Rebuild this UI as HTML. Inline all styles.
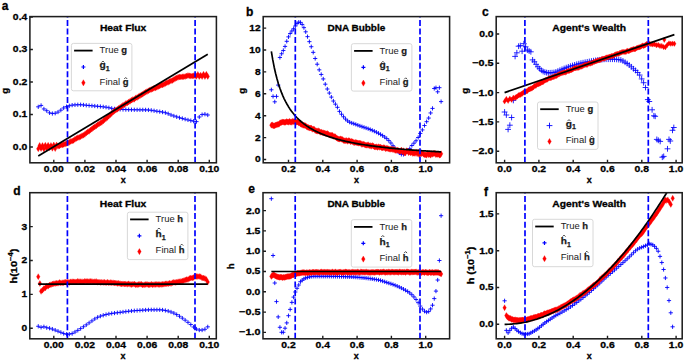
<!DOCTYPE html>
<html><head><meta charset="utf-8"><title>Figure</title>
<style>html,body{margin:0;padding:0;background:#fff;width:685px;height:361px;overflow:hidden;}svg text{font-family:"Liberation Sans", sans-serif;}</style>
</head><body>
<svg width="685" height="361" viewBox="0 0 685 361" style="position:absolute;left:0;top:0;font-family:'Liberation Sans', sans-serif">
<rect width="685" height="361" fill="#ffffff"/>
<clipPath id="clipa"><rect x="29.9" y="16.6" width="186.5" height="146.2"/></clipPath>
<g clip-path="url(#clipa)">
<path d="M36.15,106.84h4.2M38.25,104.74v4.2M38.98,105.43h4.2M41.08,103.33v4.2M41.8,108.94h4.2M43.9,106.84v4.2M44.62,110.72h4.2M46.73,108.62v4.2M47.45,112.83h4.2M49.55,110.73v4.2M50.27,113.54h4.2M52.38,111.44v4.2M53.1,113.24h4.2M55.2,111.14v4.2M55.93,112.07h4.2M58.03,109.97v4.2M58.75,110.15h4.2M60.85,108.05v4.2M61.57,107.99h4.2M63.67,105.89v4.2M64.4,106.64h4.2M66.5,104.54v4.2M67.23,105.76h4.2M69.33,103.66v4.2M70.05,105.13h4.2M72.15,103.03v4.2M72.88,104.88h4.2M74.97,102.78v4.2M75.7,104.74h4.2M77.8,102.64v4.2M78.53,104.71h4.2M80.62,102.61v4.2M81.35,104.94h4.2M83.45,102.84v4.2M84.18,105.26h4.2M86.28,103.16v4.2M87,105.51h4.2M89.1,103.41v4.2M89.83,105.76h4.2M91.93,103.66v4.2M92.65,106.02h4.2M94.75,103.92v4.2M95.48,106.28h4.2M97.58,104.18v4.2M98.3,106.55h4.2M100.4,104.45v4.2M101.13,106.84h4.2M103.23,104.74v4.2M103.95,107.19h4.2M106.05,105.09v4.2M106.78,107.73h4.2M108.88,105.63v4.2M109.6,108.34h4.2M111.7,106.24v4.2M112.43,108.85h4.2M114.53,106.75v4.2M115.25,109.13h4.2M117.35,107.03v4.2M118.08,109.33h4.2M120.18,107.23v4.2M120.9,109.48h4.2M123,107.38v4.2M123.73,109.59h4.2M125.83,107.49v4.2M126.55,109.66h4.2M128.65,107.56v4.2M129.38,109.72h4.2M131.48,107.62v4.2M132.2,109.77h4.2M134.3,107.67v4.2M135.03,109.81h4.2M137.12,107.71v4.2M137.85,109.83h4.2M139.95,107.73v4.2M140.68,109.85h4.2M142.78,107.75v4.2M143.5,109.88h4.2M145.6,107.78v4.2M146.33,109.97h4.2M148.43,107.87v4.2M149.15,110.29h4.2M151.25,108.19v4.2M151.97,110.76h4.2M154.07,108.66v4.2M154.8,111.24h4.2M156.9,109.14v4.2M157.63,111.65h4.2M159.73,109.55v4.2M160.45,112.1h4.2M162.55,110v4.2M163.28,112.7h4.2M165.38,110.6v4.2M166.1,113.73h4.2M168.2,111.63v4.2M168.93,114.96h4.2M171.03,112.86v4.2M171.75,115.95h4.2M173.85,113.85v4.2M174.58,116.85h4.2M176.68,114.75v4.2M177.4,117.68h4.2M179.5,115.58v4.2M180.23,118.47h4.2M182.33,116.37v4.2M183.05,119.21h4.2M185.15,117.11v4.2M185.88,119.93h4.2M187.98,117.83v4.2M188.7,120.6h4.2M190.8,118.5v4.2M191.53,121.18h4.2M193.62,119.08v4.2M194.35,121.64h4.2M196.45,119.54v4.2M197.18,117h4.2M199.28,114.9v4.2M200,114.6h4.2M202.1,112.5v4.2M202.83,114.2h4.2M204.93,112.1v4.2M205.65,115h4.2M207.75,112.9v4.2" stroke="#0000ff" stroke-width="0.9" fill="none"/>
<path d="M38.25,145.83l1.75,3l-1.75,3l-1.75,-3zM39.66,142.44l1.75,3l-1.75,3l-1.75,-3zM41.08,145.4l1.75,3l-1.75,3l-1.75,-3zM42.49,142.56l1.75,3l-1.75,3l-1.75,-3zM43.9,145.99l1.75,3l-1.75,3l-1.75,-3zM45.31,142.28l1.75,3l-1.75,3l-1.75,-3zM46.73,145.14l1.75,3l-1.75,3l-1.75,-3zM48.14,142.37l1.75,3l-1.75,3l-1.75,-3zM49.55,144.7l1.75,3l-1.75,3l-1.75,-3zM50.96,142.45l1.75,3l-1.75,3l-1.75,-3zM52.38,145.31l1.75,3l-1.75,3l-1.75,-3zM53.79,141.99l1.75,3l-1.75,3l-1.75,-3zM55.2,145.58l1.75,3l-1.75,3l-1.75,-3zM56.61,141.92l1.75,3l-1.75,3l-1.75,-3zM58.03,143.32l1.75,3l-1.75,3l-1.75,-3zM59.44,142.9l1.75,3l-1.75,3l-1.75,-3zM60.85,142.05l1.75,3l-1.75,3l-1.75,-3zM62.26,142.06l1.75,3l-1.75,3l-1.75,-3zM63.67,141.39l1.75,3l-1.75,3l-1.75,-3zM65.09,141.04l1.75,3l-1.75,3l-1.75,-3zM66.5,140.38l1.75,3l-1.75,3l-1.75,-3zM67.91,140.11l1.75,3l-1.75,3l-1.75,-3zM69.33,139.29l1.75,3l-1.75,3l-1.75,-3zM70.74,138.4l1.75,3l-1.75,3l-1.75,-3zM72.15,137.99l1.75,3l-1.75,3l-1.75,-3zM73.56,137.41l1.75,3l-1.75,3l-1.75,-3zM74.97,136.25l1.75,3l-1.75,3l-1.75,-3zM76.39,135.38l1.75,3l-1.75,3l-1.75,-3zM77.8,134.71l1.75,3l-1.75,3l-1.75,-3zM79.21,134.37l1.75,3l-1.75,3l-1.75,-3zM80.62,133.66l1.75,3l-1.75,3l-1.75,-3zM82.04,132.71l1.75,3l-1.75,3l-1.75,-3zM83.45,132.18l1.75,3l-1.75,3l-1.75,-3zM84.86,131.36l1.75,3l-1.75,3l-1.75,-3zM86.28,130.09l1.75,3l-1.75,3l-1.75,-3zM87.69,128.88l1.75,3l-1.75,3l-1.75,-3zM89.1,128.28l1.75,3l-1.75,3l-1.75,-3zM90.51,127.12l1.75,3l-1.75,3l-1.75,-3zM91.93,125.89l1.75,3l-1.75,3l-1.75,-3zM93.34,124.75l1.75,3l-1.75,3l-1.75,-3zM94.75,123.91l1.75,3l-1.75,3l-1.75,-3zM96.16,122.99l1.75,3l-1.75,3l-1.75,-3zM97.58,121.87l1.75,3l-1.75,3l-1.75,-3zM98.99,120.91l1.75,3l-1.75,3l-1.75,-3zM100.4,120.04l1.75,3l-1.75,3l-1.75,-3zM101.81,119.33l1.75,3l-1.75,3l-1.75,-3zM103.23,118.05l1.75,3l-1.75,3l-1.75,-3zM104.64,116.72l1.75,3l-1.75,3l-1.75,-3zM106.05,115.55l1.75,3l-1.75,3l-1.75,-3zM107.46,114.46l1.75,3l-1.75,3l-1.75,-3zM108.88,112.97l1.75,3l-1.75,3l-1.75,-3zM110.29,111.65l1.75,3l-1.75,3l-1.75,-3zM111.7,110.6l1.75,3l-1.75,3l-1.75,-3zM113.11,109l1.75,3l-1.75,3l-1.75,-3zM114.53,108.12l1.75,3l-1.75,3l-1.75,-3zM115.94,106.94l1.75,3l-1.75,3l-1.75,-3zM117.35,106.2l1.75,3l-1.75,3l-1.75,-3zM118.76,105.27l1.75,3l-1.75,3l-1.75,-3zM120.18,104.29l1.75,3l-1.75,3l-1.75,-3zM121.59,103.39l1.75,3l-1.75,3l-1.75,-3zM123,102.27l1.75,3l-1.75,3l-1.75,-3zM124.41,101.66l1.75,3l-1.75,3l-1.75,-3zM125.83,100.57l1.75,3l-1.75,3l-1.75,-3zM127.24,99.94l1.75,3l-1.75,3l-1.75,-3zM128.65,98.94l1.75,3l-1.75,3l-1.75,-3zM130.06,98.24l1.75,3l-1.75,3l-1.75,-3zM131.48,97.14l1.75,3l-1.75,3l-1.75,-3zM132.89,96.49l1.75,3l-1.75,3l-1.75,-3zM134.3,96.28l1.75,3l-1.75,3l-1.75,-3zM135.71,94.88l1.75,3l-1.75,3l-1.75,-3zM137.12,94.44l1.75,3l-1.75,3l-1.75,-3zM138.54,93.6l1.75,3l-1.75,3l-1.75,-3zM139.95,92.86l1.75,3l-1.75,3l-1.75,-3zM141.36,91.87l1.75,3l-1.75,3l-1.75,-3zM142.78,91.18l1.75,3l-1.75,3l-1.75,-3zM144.19,89.98l1.75,3l-1.75,3l-1.75,-3zM145.6,89.23l1.75,3l-1.75,3l-1.75,-3zM147.01,88.58l1.75,3l-1.75,3l-1.75,-3zM148.43,87.81l1.75,3l-1.75,3l-1.75,-3zM149.84,87.06l1.75,3l-1.75,3l-1.75,-3zM151.25,86.39l1.75,3l-1.75,3l-1.75,-3zM152.66,86.06l1.75,3l-1.75,3l-1.75,-3zM154.07,85.11l1.75,3l-1.75,3l-1.75,-3zM155.49,85.08l1.75,3l-1.75,3l-1.75,-3zM156.9,84.24l1.75,3l-1.75,3l-1.75,-3zM158.31,83.5l1.75,3l-1.75,3l-1.75,-3zM159.73,83.01l1.75,3l-1.75,3l-1.75,-3zM161.14,82.04l1.75,3l-1.75,3l-1.75,-3zM162.55,81.94l1.75,3l-1.75,3l-1.75,-3zM163.96,81.24l1.75,3l-1.75,3l-1.75,-3zM165.38,80.51l1.75,3l-1.75,3l-1.75,-3zM166.79,79.67l1.75,3l-1.75,3l-1.75,-3zM168.2,79.31l1.75,3l-1.75,3l-1.75,-3zM169.61,78.58l1.75,3l-1.75,3l-1.75,-3zM171.03,77.86l1.75,3l-1.75,3l-1.75,-3zM172.44,77.42l1.75,3l-1.75,3l-1.75,-3zM173.85,76.51l1.75,3l-1.75,3l-1.75,-3zM175.26,75.61l1.75,3l-1.75,3l-1.75,-3zM176.68,75.12l1.75,3l-1.75,3l-1.75,-3zM178.09,74.33l1.75,3l-1.75,3l-1.75,-3zM179.5,73.92l1.75,3l-1.75,3l-1.75,-3zM180.91,74l1.75,3l-1.75,3l-1.75,-3zM182.33,73.76l1.75,3l-1.75,3l-1.75,-3zM183.74,73.71l1.75,3l-1.75,3l-1.75,-3zM185.15,73.45l1.75,3l-1.75,3l-1.75,-3zM186.56,73.06l1.75,3l-1.75,3l-1.75,-3zM187.98,72.58l1.75,3l-1.75,3l-1.75,-3zM189.39,72.82l1.75,3l-1.75,3l-1.75,-3zM190.8,73.11l1.75,3l-1.75,3l-1.75,-3zM192.21,72.96l1.75,3l-1.75,3l-1.75,-3zM193.62,72.69l1.75,3l-1.75,3l-1.75,-3zM195.04,72.66l1.75,3l-1.75,3l-1.75,-3zM196.45,73.32l1.75,3l-1.75,3l-1.75,-3zM197.86,71.39l1.75,3l-1.75,3l-1.75,-3zM199.28,73.51l1.75,3l-1.75,3l-1.75,-3zM200.69,72.14l1.75,3l-1.75,3l-1.75,-3zM202.1,73.59l1.75,3l-1.75,3l-1.75,-3zM203.51,71.33l1.75,3l-1.75,3l-1.75,-3zM204.93,73.56l1.75,3l-1.75,3l-1.75,-3zM206.34,71.37l1.75,3l-1.75,3l-1.75,-3zM207.75,73.4l1.75,3l-1.75,3l-1.75,-3z" fill="#ff0000" stroke="#ff0000" stroke-width="0.3"/>
<path d="M38.25,156 L207.75,54.33" fill="none" stroke="#000" stroke-width="1.7" stroke-linejoin="round"/>
<line x1="67.5" y1="162.8" x2="67.5" y2="16.6" stroke="#0000ff" stroke-width="1.7" stroke-dasharray="6,2.55"/>
<line x1="195.1" y1="162.8" x2="195.1" y2="16.6" stroke="#0000ff" stroke-width="1.7" stroke-dasharray="6,2.55"/>
</g>
<path d="M53.8,162.8v-3.0M84.9,162.8v-3.0M116,162.8v-3.0M147.1,162.8v-3.0M178.2,162.8v-3.0M209.3,162.8v-3.0M29.9,147h3.0M29.9,114.5h3.0M29.9,82h3.0M29.9,49.5h3.0M29.9,17h3.0" stroke="#1e1e1e" stroke-width="1.4"/>
<rect x="29.9" y="16.6" width="186.5" height="146.2" fill="none" stroke="#1e1e1e" stroke-width="1.55"/>
<text x="53.8" y="172.1" font-size="9.4" font-weight="bold" stroke="#000" stroke-width="0.3" text-anchor="middle" textLength="20.11" lengthAdjust="spacingAndGlyphs">0.00</text>
<text x="84.9" y="172.1" font-size="9.4" font-weight="bold" stroke="#000" stroke-width="0.3" text-anchor="middle" textLength="20.11" lengthAdjust="spacingAndGlyphs">0.02</text>
<text x="116" y="172.1" font-size="9.4" font-weight="bold" stroke="#000" stroke-width="0.3" text-anchor="middle" textLength="20.11" lengthAdjust="spacingAndGlyphs">0.04</text>
<text x="147.1" y="172.1" font-size="9.4" font-weight="bold" stroke="#000" stroke-width="0.3" text-anchor="middle" textLength="20.11" lengthAdjust="spacingAndGlyphs">0.06</text>
<text x="178.2" y="172.1" font-size="9.4" font-weight="bold" stroke="#000" stroke-width="0.3" text-anchor="middle" textLength="20.11" lengthAdjust="spacingAndGlyphs">0.08</text>
<text x="209.3" y="172.1" font-size="9.4" font-weight="bold" stroke="#000" stroke-width="0.3" text-anchor="middle" textLength="20.11" lengthAdjust="spacingAndGlyphs">0.10</text>
<text x="27.3" y="149.95" font-size="9.4" font-weight="bold" stroke="#000" stroke-width="0.3" text-anchor="end" textLength="14.44" lengthAdjust="spacingAndGlyphs">0.0</text>
<text x="27.3" y="117.45" font-size="9.4" font-weight="bold" stroke="#000" stroke-width="0.3" text-anchor="end" textLength="14.44" lengthAdjust="spacingAndGlyphs">0.1</text>
<text x="27.3" y="84.95" font-size="9.4" font-weight="bold" stroke="#000" stroke-width="0.3" text-anchor="end" textLength="14.44" lengthAdjust="spacingAndGlyphs">0.2</text>
<text x="27.3" y="52.45" font-size="9.4" font-weight="bold" stroke="#000" stroke-width="0.3" text-anchor="end" textLength="14.44" lengthAdjust="spacingAndGlyphs">0.3</text>
<text x="27.3" y="19.95" font-size="9.4" font-weight="bold" stroke="#000" stroke-width="0.3" text-anchor="end" textLength="14.44" lengthAdjust="spacingAndGlyphs">0.4</text>
<text x="123.15" y="182.7" font-size="9.0" font-weight="bold" stroke="#000" stroke-width="0.3" text-anchor="middle">x</text>
<text x="8.2" y="90.7" font-size="9.6" font-weight="bold" stroke="#000" stroke-width="0.3" text-anchor="middle" transform="rotate(-90 8.2 90.7)">g</text>
<text x="123.15" y="31.2" font-size="9.3" font-weight="bold" stroke="#000" stroke-width="0.3" text-anchor="middle" textLength="46.43" lengthAdjust="spacingAndGlyphs">Heat Flux</text>
<text x="1.8" y="10.2" font-size="12.0" font-weight="bold" stroke="#000" stroke-width="0.3">a</text>
<rect x="71.4" y="43.4" width="60.5" height="47.4" rx="2" ry="2" fill="#ffffff" fill-opacity="0.8" stroke="#d4d4d4" stroke-width="0.9"/>
<line x1="74.1" y1="50.6" x2="92.6" y2="50.6" stroke="#000" stroke-width="1.8"/>
<path d="M81.4,67h4M83.4,65v4" stroke="#0000ff" stroke-width="1.2" fill="none"/>
<path d="M83.4,79.7l1.8,3.1l-1.8,3.1l-1.8,-3.1z" fill="#ff0000" stroke="#ff0000" stroke-width="0.3"/>
<text x="99.6" y="53.4" font-size="9.3" textLength="27.47" lengthAdjust="spacingAndGlyphs" fill="#1a1a1a">True <tspan font-weight="bold" stroke="#1a1a1a" stroke-width="0.25">g</tspan></text>
<text x="99.6" y="68" font-size="9.3" font-weight="bold" fill="#1a1a1a" stroke="#1a1a1a" stroke-width="0.25"><tspan textLength="6.23" lengthAdjust="spacingAndGlyphs">g</tspan><tspan font-size="7" dy="2.6">1</tspan></text>
<text x="99.6" y="84.5" font-size="9.3" textLength="29.04" lengthAdjust="spacingAndGlyphs" fill="#1a1a1a">Final <tspan font-weight="bold" stroke="#1a1a1a" stroke-width="0.25">g</tspan></text>
<path d="M101.41,62.5L102.91,61L104.41,62.5M124.23,79L125.73,77.5L127.23,79" fill="none" stroke="#1a1a1a" stroke-width="0.8"/>
<clipPath id="clipb"><rect x="263.2" y="16.6" width="186.4" height="146.2"/></clipPath>
<g clip-path="url(#clipb)">
<path d="M269.25,89.8h4.2M271.35,87.7v4.2M270.96,96.4h4.2M273.06,94.3v4.2M272.67,101.8h4.2M274.77,99.7v4.2M274.39,96.4h4.2M276.49,94.3v4.2M276.1,85.1h4.2M278.2,83v4.2M277.81,57.47h4.2M279.91,55.37v4.2M279.52,53.76h4.2M281.62,51.66v4.2M281.23,50.47h4.2M283.33,48.37v4.2M282.95,46.42h4.2M285.05,44.32v4.2M284.66,41.32h4.2M286.76,39.22v4.2M286.37,36.87h4.2M288.47,34.77v4.2M288.08,33.53h4.2M290.18,31.43v4.2M289.79,30.97h4.2M291.89,28.87v4.2M291.51,28.75h4.2M293.61,26.65v4.2M293.22,26.02h4.2M295.32,23.92v4.2M294.93,23.56h4.2M297.03,21.46v4.2M296.64,22.21h4.2M298.74,20.11v4.2M298.35,22.37h4.2M300.45,20.27v4.2M300.07,24.45h4.2M302.17,22.35v4.2M301.82,27.66h4.2M303.92,25.56v4.2M303.61,31.82h4.2M305.71,29.72v4.2M305.43,36.65h4.2M307.53,34.55v4.2M307.29,41.65h4.2M309.39,39.55v4.2M309.18,46.71h4.2M311.28,44.61v4.2M311.12,52.37h4.2M313.22,50.27v4.2M313.09,58.49h4.2M315.19,56.39v4.2M315.1,64.22h4.2M317.2,62.12v4.2M317.12,69.84h4.2M319.22,67.74v4.2M319.13,74.45h4.2M321.23,72.35v4.2M321.15,78.93h4.2M323.25,76.83v4.2M323.18,84.18h4.2M325.28,82.08v4.2M325.2,89h4.2M327.3,86.9v4.2M327.22,93.05h4.2M329.32,90.95v4.2M329.25,97.1h4.2M331.35,95v4.2M331.28,101.02h4.2M333.38,98.92v4.2M333.31,104.17h4.2M335.41,102.07v4.2M335.34,107.33h4.2M337.44,105.23v4.2M337.38,111.37h4.2M339.48,109.27v4.2M339.41,114.22h4.2M341.51,112.12v4.2M341.45,116.8h4.2M343.55,114.7v4.2M343.49,119.1h4.2M345.59,117v4.2M345.53,120.93h4.2M347.63,118.83v4.2M347.57,122.19h4.2M349.67,120.09v4.2M349.62,123.01h4.2M351.72,120.91v4.2M351.67,123.68h4.2M353.77,121.58v4.2M353.72,124.39h4.2M355.82,122.29v4.2M355.77,125.16h4.2M357.87,123.06v4.2M357.82,125.93h4.2M359.92,123.83v4.2M359.87,126.66h4.2M361.97,124.56v4.2M361.93,127.34h4.2M364.03,125.24v4.2M363.99,128.01h4.2M366.09,125.91v4.2M366.05,128.73h4.2M368.15,126.63v4.2M368.11,129.51h4.2M370.21,127.41v4.2M370.17,130.35h4.2M372.27,128.25v4.2M372.24,131.25h4.2M374.34,129.15v4.2M374.31,132.22h4.2M376.41,130.12v4.2M376.38,133.26h4.2M378.48,131.16v4.2M378.45,134.4h4.2M380.55,132.3v4.2M380.52,135.64h4.2M382.62,133.54v4.2M382.6,137.03h4.2M384.7,134.93v4.2M384.67,138.63h4.2M386.77,136.53v4.2M386.75,140.65h4.2M388.85,138.55v4.2M388.83,143.01h4.2M390.93,140.91v4.2M390.92,145.72h4.2M393.02,143.62v4.2M393,148.37h4.2M395.1,146.27v4.2M395.09,151.03h4.2M397.19,148.93v4.2M397.18,152.96h4.2M399.28,150.86v4.2M399.27,154.36h4.2M401.37,152.26v4.2M401.36,154.43h4.2M403.46,152.33v4.2M403.45,153.41h4.2M405.55,151.31v4.2M405.55,151.45h4.2M407.65,149.35v4.2M407.65,148.63h4.2M409.75,146.53v4.2M409.75,145.53h4.2M411.85,143.43v4.2M411.85,143.16h4.2M413.95,141.06v4.2M413.95,140.77h4.2M416.05,138.67v4.2M416.06,137.48h4.2M418.16,135.38v4.2M418.17,133.41h4.2M420.27,131.31v4.2M420.28,129.91h4.2M422.38,127.81v4.2M422.39,125.53h4.2M424.49,123.43v4.2M424.5,121.68h4.2M426.6,119.58v4.2M426.59,118.06h4.2M428.69,115.96v4.2M428.55,112.96h4.2M430.65,110.86v4.2M430.4,108.4h4.2M432.5,106.3v4.2M432.15,88.5h4.2M434.25,86.4v4.2M433.86,87.7h4.2M435.96,85.6v4.2M435.58,91.8h4.2M437.68,89.7v4.2M437.29,87.7h4.2M439.39,85.6v4.2M439,101.6h4.2M441.1,99.5v4.2" stroke="#0000ff" stroke-width="0.9" fill="none"/>
<path d="M271.35,122.17l1.75,3l-1.75,3l-1.75,-3zM273.06,122.74l1.75,3l-1.75,3l-1.75,-3zM274.77,122.67l1.75,3l-1.75,3l-1.75,-3zM276.49,121.87l1.75,3l-1.75,3l-1.75,-3zM278.2,121.36l1.75,3l-1.75,3l-1.75,-3zM279.91,119.88l1.75,3l-1.75,3l-1.75,-3zM281.62,119.38l1.75,3l-1.75,3l-1.75,-3zM283.33,119.09l1.75,3l-1.75,3l-1.75,-3zM285.05,119.46l1.75,3l-1.75,3l-1.75,-3zM286.76,118.46l1.75,3l-1.75,3l-1.75,-3zM288.47,119.27l1.75,3l-1.75,3l-1.75,-3zM290.18,119.16l1.75,3l-1.75,3l-1.75,-3zM291.89,119.37l1.75,3l-1.75,3l-1.75,-3zM293.61,118.64l1.75,3l-1.75,3l-1.75,-3zM295.32,118.51l1.75,3l-1.75,3l-1.75,-3zM297.03,118.91l1.75,3l-1.75,3l-1.75,-3zM298.74,120.1l1.75,3l-1.75,3l-1.75,-3zM300.45,120.99l1.75,3l-1.75,3l-1.75,-3zM302.17,121.57l1.75,3l-1.75,3l-1.75,-3zM303.92,122.17l1.75,3l-1.75,3l-1.75,-3zM305.71,122.76l1.75,3l-1.75,3l-1.75,-3zM307.53,124.24l1.75,3l-1.75,3l-1.75,-3zM309.39,125.11l1.75,3l-1.75,3l-1.75,-3zM311.28,124.98l1.75,3l-1.75,3l-1.75,-3zM313.22,125.92l1.75,3l-1.75,3l-1.75,-3zM315.19,127.44l1.75,3l-1.75,3l-1.75,-3zM317.2,128.22l1.75,3l-1.75,3l-1.75,-3zM319.22,128.31l1.75,3l-1.75,3l-1.75,-3zM321.23,128.94l1.75,3l-1.75,3l-1.75,-3zM323.25,129.73l1.75,3l-1.75,3l-1.75,-3zM325.28,130.43l1.75,3l-1.75,3l-1.75,-3zM327.3,130.47l1.75,3l-1.75,3l-1.75,-3zM329.32,131.97l1.75,3l-1.75,3l-1.75,-3zM331.35,132.28l1.75,3l-1.75,3l-1.75,-3zM333.38,133.38l1.75,3l-1.75,3l-1.75,-3zM335.41,133.69l1.75,3l-1.75,3l-1.75,-3zM337.44,135.55l1.75,3l-1.75,3l-1.75,-3zM339.48,136.13l1.75,3l-1.75,3l-1.75,-3zM341.51,136.26l1.75,3l-1.75,3l-1.75,-3zM343.55,137.52l1.75,3l-1.75,3l-1.75,-3zM345.59,137.69l1.75,3l-1.75,3l-1.75,-3zM347.63,138.3l1.75,3l-1.75,3l-1.75,-3zM349.67,137.78l1.75,3l-1.75,3l-1.75,-3zM351.72,138.22l1.75,3l-1.75,3l-1.75,-3zM353.77,139.44l1.75,3l-1.75,3l-1.75,-3zM355.82,139.33l1.75,3l-1.75,3l-1.75,-3zM357.87,140.02l1.75,3l-1.75,3l-1.75,-3zM359.92,140.04l1.75,3l-1.75,3l-1.75,-3zM361.97,141.48l1.75,3l-1.75,3l-1.75,-3zM364.03,141.36l1.75,3l-1.75,3l-1.75,-3zM366.09,142.19l1.75,3l-1.75,3l-1.75,-3zM368.15,141.72l1.75,3l-1.75,3l-1.75,-3zM370.21,142.62l1.75,3l-1.75,3l-1.75,-3zM372.27,142.51l1.75,3l-1.75,3l-1.75,-3zM374.34,143.89l1.75,3l-1.75,3l-1.75,-3zM376.41,143.74l1.75,3l-1.75,3l-1.75,-3zM378.48,143.66l1.75,3l-1.75,3l-1.75,-3zM380.55,144.03l1.75,3l-1.75,3l-1.75,-3zM382.62,144.95l1.75,3l-1.75,3l-1.75,-3zM384.7,144.76l1.75,3l-1.75,3l-1.75,-3zM386.77,145.24l1.75,3l-1.75,3l-1.75,-3zM388.85,145.9l1.75,3l-1.75,3l-1.75,-3zM390.93,146.32l1.75,3l-1.75,3l-1.75,-3zM393.02,146.77l1.75,3l-1.75,3l-1.75,-3zM395.1,147.38l1.75,3l-1.75,3l-1.75,-3zM397.19,146.98l1.75,3l-1.75,3l-1.75,-3zM399.28,148.06l1.75,3l-1.75,3l-1.75,-3zM401.37,147.02l1.75,3l-1.75,3l-1.75,-3zM403.46,147.74l1.75,3l-1.75,3l-1.75,-3zM405.55,149.69l1.75,3l-1.75,3l-1.75,-3zM407.65,148.13l1.75,3l-1.75,3l-1.75,-3zM409.75,148.71l1.75,3l-1.75,3l-1.75,-3zM411.85,149.11l1.75,3l-1.75,3l-1.75,-3zM413.95,150.12l1.75,3l-1.75,3l-1.75,-3zM416.05,148.94l1.75,3l-1.75,3l-1.75,-3zM418.16,149.23l1.75,3l-1.75,3l-1.75,-3zM420.27,150.7l1.75,3l-1.75,3l-1.75,-3zM422.38,149.97l1.75,3l-1.75,3l-1.75,-3zM424.49,151.69l1.75,3l-1.75,3l-1.75,-3zM426.6,152.19l1.75,3l-1.75,3l-1.75,-3zM428.69,151.68l1.75,3l-1.75,3l-1.75,-3zM430.65,152.15l1.75,3l-1.75,3l-1.75,-3zM432.5,151.34l1.75,3l-1.75,3l-1.75,-3zM434.25,150.39l1.75,3l-1.75,3l-1.75,-3zM435.96,151.63l1.75,3l-1.75,3l-1.75,-3zM437.68,151.47l1.75,3l-1.75,3l-1.75,-3zM439.39,152.18l1.75,3l-1.75,3l-1.75,-3zM441.1,150.8l1.75,3l-1.75,3l-1.75,-3zM272.21,121.86l1.75,3l-1.75,3l-1.75,-3zM273.92,122.76l1.75,3l-1.75,3l-1.75,-3zM275.63,122.06l1.75,3l-1.75,3l-1.75,-3zM277.34,121.48l1.75,3l-1.75,3l-1.75,-3zM279.05,121.18l1.75,3l-1.75,3l-1.75,-3zM280.77,119.67l1.75,3l-1.75,3l-1.75,-3zM282.48,118.91l1.75,3l-1.75,3l-1.75,-3zM284.19,119.33l1.75,3l-1.75,3l-1.75,-3zM285.9,119.02l1.75,3l-1.75,3l-1.75,-3zM287.61,118.97l1.75,3l-1.75,3l-1.75,-3zM289.33,118.25l1.75,3l-1.75,3l-1.75,-3zM291.04,118.7l1.75,3l-1.75,3l-1.75,-3zM292.75,118.21l1.75,3l-1.75,3l-1.75,-3zM294.46,118.5l1.75,3l-1.75,3l-1.75,-3zM296.17,119.26l1.75,3l-1.75,3l-1.75,-3zM297.88,118.93l1.75,3l-1.75,3l-1.75,-3zM299.6,119.78l1.75,3l-1.75,3l-1.75,-3zM301.31,121.46l1.75,3l-1.75,3l-1.75,-3zM303.05,122.35l1.75,3l-1.75,3l-1.75,-3zM304.81,122.58l1.75,3l-1.75,3l-1.75,-3zM306.62,123.71l1.75,3l-1.75,3l-1.75,-3zM308.46,124.41l1.75,3l-1.75,3l-1.75,-3zM310.34,125.03l1.75,3l-1.75,3l-1.75,-3zM312.25,126.3l1.75,3l-1.75,3l-1.75,-3zM314.2,126.26l1.75,3l-1.75,3l-1.75,-3zM316.2,127.82l1.75,3l-1.75,3l-1.75,-3zM318.21,127.63l1.75,3l-1.75,3l-1.75,-3zM320.23,129.32l1.75,3l-1.75,3l-1.75,-3zM322.24,129.72l1.75,3l-1.75,3l-1.75,-3zM324.26,130.03l1.75,3l-1.75,3l-1.75,-3zM326.29,130.87l1.75,3l-1.75,3l-1.75,-3zM328.31,131.21l1.75,3l-1.75,3l-1.75,-3zM330.34,132.23l1.75,3l-1.75,3l-1.75,-3zM332.36,132.15l1.75,3l-1.75,3l-1.75,-3zM334.39,133.53l1.75,3l-1.75,3l-1.75,-3zM336.43,134.95l1.75,3l-1.75,3l-1.75,-3zM338.46,135.95l1.75,3l-1.75,3l-1.75,-3zM340.49,135.82l1.75,3l-1.75,3l-1.75,-3zM342.53,136.42l1.75,3l-1.75,3l-1.75,-3zM344.57,137.71l1.75,3l-1.75,3l-1.75,-3zM346.61,137.49l1.75,3l-1.75,3l-1.75,-3zM348.65,137.58l1.75,3l-1.75,3l-1.75,-3zM350.7,138.81l1.75,3l-1.75,3l-1.75,-3zM352.74,138.85l1.75,3l-1.75,3l-1.75,-3zM354.79,139.64l1.75,3l-1.75,3l-1.75,-3zM356.84,139.76l1.75,3l-1.75,3l-1.75,-3zM358.89,140.23l1.75,3l-1.75,3l-1.75,-3zM360.95,140.58l1.75,3l-1.75,3l-1.75,-3zM363,140.88l1.75,3l-1.75,3l-1.75,-3zM365.06,142.06l1.75,3l-1.75,3l-1.75,-3zM367.12,142.22l1.75,3l-1.75,3l-1.75,-3zM369.18,142.78l1.75,3l-1.75,3l-1.75,-3zM371.24,143.32l1.75,3l-1.75,3l-1.75,-3zM373.31,142.93l1.75,3l-1.75,3l-1.75,-3zM375.37,144.12l1.75,3l-1.75,3l-1.75,-3zM377.44,144.43l1.75,3l-1.75,3l-1.75,-3zM379.51,144.37l1.75,3l-1.75,3l-1.75,-3zM381.59,144.8l1.75,3l-1.75,3l-1.75,-3zM383.66,144.62l1.75,3l-1.75,3l-1.75,-3zM385.74,145.76l1.75,3l-1.75,3l-1.75,-3zM387.81,145.41l1.75,3l-1.75,3l-1.75,-3zM389.89,146.19l1.75,3l-1.75,3l-1.75,-3zM391.98,146.05l1.75,3l-1.75,3l-1.75,-3zM394.06,146.33l1.75,3l-1.75,3l-1.75,-3zM396.15,147.52l1.75,3l-1.75,3l-1.75,-3zM398.23,147.5l1.75,3l-1.75,3l-1.75,-3zM400.32,148.39l1.75,3l-1.75,3l-1.75,-3zM402.41,149.1l1.75,3l-1.75,3l-1.75,-3zM404.51,150.05l1.75,3l-1.75,3l-1.75,-3zM406.6,147.73l1.75,3l-1.75,3l-1.75,-3zM408.7,149.75l1.75,3l-1.75,3l-1.75,-3zM410.8,149.94l1.75,3l-1.75,3l-1.75,-3zM412.9,150.49l1.75,3l-1.75,3l-1.75,-3zM415,150.45l1.75,3l-1.75,3l-1.75,-3zM417.11,150.72l1.75,3l-1.75,3l-1.75,-3zM419.21,151.83l1.75,3l-1.75,3l-1.75,-3zM421.32,150.76l1.75,3l-1.75,3l-1.75,-3zM423.43,151.17l1.75,3l-1.75,3l-1.75,-3zM425.54,151.8l1.75,3l-1.75,3l-1.75,-3zM427.64,150.15l1.75,3l-1.75,3l-1.75,-3zM429.67,151.31l1.75,3l-1.75,3l-1.75,-3zM431.58,150.43l1.75,3l-1.75,3l-1.75,-3zM433.38,150.62l1.75,3l-1.75,3l-1.75,-3zM435.11,150.29l1.75,3l-1.75,3l-1.75,-3zM436.82,150.97l1.75,3l-1.75,3l-1.75,-3zM438.53,151.03l1.75,3l-1.75,3l-1.75,-3zM440.24,151.95l1.75,3l-1.75,3l-1.75,-3z" fill="#ff0000" stroke="#ff0000" stroke-width="0.3"/>
<path d="M271.35,51.42 L272.78,59.92 L274.2,67.2 L275.63,73.51 L277.06,79.04 L278.48,83.91 L279.91,88.25 L281.34,92.13 L282.76,95.62 L284.19,98.78 L285.62,101.65 L287.04,104.27 L288.47,106.67 L289.9,108.89 L291.32,110.93 L292.75,112.82 L294.18,114.58 L295.61,116.21 L297.03,117.74 L298.46,119.16 L299.89,120.5 L301.31,121.76 L302.74,122.94 L304.17,124.06 L305.59,125.11 L307.02,126.11 L308.45,127.05 L309.87,127.95 L311.3,128.8 L312.73,129.61 L314.15,130.38 L315.58,131.12 L317.01,131.82 L318.43,132.49 L319.86,133.13 L321.29,133.75 L322.71,134.33 L324.14,134.9 L325.57,135.44 L326.99,135.96 L328.42,136.46 L329.85,136.95 L331.27,137.41 L332.7,137.86 L334.13,138.29 L335.55,138.7 L336.98,139.11 L338.41,139.49 L339.83,139.87 L341.26,140.23 L342.69,140.58 L344.12,140.92 L345.54,141.25 L346.97,141.57 L348.4,141.88 L349.82,142.18 L351.25,142.47 L352.68,142.76 L354.1,143.03 L355.53,143.3 L356.96,143.56 L358.38,143.81 L359.81,144.06 L361.24,144.3 L362.66,144.53 L364.09,144.76 L365.52,144.98 L366.94,145.2 L368.37,145.41 L369.8,145.61 L371.22,145.81 L372.65,146.01 L374.08,146.2 L375.5,146.38 L376.93,146.56 L378.36,146.74 L379.78,146.92 L381.21,147.09 L382.64,147.25 L384.06,147.41 L385.49,147.57 L386.92,147.73 L388.34,147.88 L389.77,148.03 L391.2,148.17 L392.62,148.32 L394.05,148.46 L395.48,148.59 L396.91,148.73 L398.33,148.86 L399.76,148.99 L401.19,149.11 L402.61,149.24 L404.04,149.36 L405.47,149.48 L406.89,149.6 L408.32,149.71 L409.75,149.82 L411.17,149.94 L412.6,150.04 L414.03,150.15 L415.45,150.26 L416.88,150.36 L418.31,150.46 L419.73,150.56 L421.16,150.66 L422.59,150.75 L424.01,150.85 L425.44,150.94 L426.87,151.03 L428.29,151.12 L429.72,151.21 L431.15,151.3 L432.57,151.39 L434,151.47 L435.43,151.55 L436.85,151.63 L438.28,151.71 L439.71,151.79 L441.13,151.87" fill="none" stroke="#000" stroke-width="1.7" stroke-linejoin="round"/>
<line x1="295.3" y1="162.8" x2="295.3" y2="16.6" stroke="#0000ff" stroke-width="1.7" stroke-dasharray="6,2.55"/>
<line x1="420" y1="162.8" x2="420" y2="16.6" stroke="#0000ff" stroke-width="1.7" stroke-dasharray="6,2.55"/>
</g>
<path d="M288.5,162.8v-3.0M322.8,162.8v-3.0M357.1,162.8v-3.0M391.4,162.8v-3.0M425.7,162.8v-3.0M263.2,159.5h3.0M263.2,137.6h3.0M263.2,115.7h3.0M263.2,93.8h3.0M263.2,71.9h3.0M263.2,50h3.0M263.2,28.1h3.0" stroke="#1e1e1e" stroke-width="1.4"/>
<rect x="263.2" y="16.6" width="186.4" height="146.2" fill="none" stroke="#1e1e1e" stroke-width="1.55"/>
<text x="288.5" y="172.1" font-size="9.4" font-weight="bold" stroke="#000" stroke-width="0.3" text-anchor="middle" textLength="14.44" lengthAdjust="spacingAndGlyphs">0.2</text>
<text x="322.8" y="172.1" font-size="9.4" font-weight="bold" stroke="#000" stroke-width="0.3" text-anchor="middle" textLength="14.44" lengthAdjust="spacingAndGlyphs">0.4</text>
<text x="357.1" y="172.1" font-size="9.4" font-weight="bold" stroke="#000" stroke-width="0.3" text-anchor="middle" textLength="14.44" lengthAdjust="spacingAndGlyphs">0.6</text>
<text x="391.4" y="172.1" font-size="9.4" font-weight="bold" stroke="#000" stroke-width="0.3" text-anchor="middle" textLength="14.44" lengthAdjust="spacingAndGlyphs">0.8</text>
<text x="425.7" y="172.1" font-size="9.4" font-weight="bold" stroke="#000" stroke-width="0.3" text-anchor="middle" textLength="14.44" lengthAdjust="spacingAndGlyphs">1.0</text>
<text x="260.6" y="162.45" font-size="9.4" font-weight="bold" stroke="#000" stroke-width="0.3" text-anchor="end" textLength="5.67" lengthAdjust="spacingAndGlyphs">0</text>
<text x="260.6" y="140.55" font-size="9.4" font-weight="bold" stroke="#000" stroke-width="0.3" text-anchor="end" textLength="5.67" lengthAdjust="spacingAndGlyphs">2</text>
<text x="260.6" y="118.65" font-size="9.4" font-weight="bold" stroke="#000" stroke-width="0.3" text-anchor="end" textLength="5.67" lengthAdjust="spacingAndGlyphs">4</text>
<text x="260.6" y="96.75" font-size="9.4" font-weight="bold" stroke="#000" stroke-width="0.3" text-anchor="end" textLength="5.67" lengthAdjust="spacingAndGlyphs">6</text>
<text x="260.6" y="74.85" font-size="9.4" font-weight="bold" stroke="#000" stroke-width="0.3" text-anchor="end" textLength="5.67" lengthAdjust="spacingAndGlyphs">8</text>
<text x="260.6" y="52.95" font-size="9.4" font-weight="bold" stroke="#000" stroke-width="0.3" text-anchor="end" textLength="11.34" lengthAdjust="spacingAndGlyphs">10</text>
<text x="260.6" y="31.05" font-size="9.4" font-weight="bold" stroke="#000" stroke-width="0.3" text-anchor="end" textLength="11.34" lengthAdjust="spacingAndGlyphs">12</text>
<text x="356.4" y="182.7" font-size="9.0" font-weight="bold" stroke="#000" stroke-width="0.3" text-anchor="middle">x</text>
<text x="245" y="90.8" font-size="9.6" font-weight="bold" stroke="#000" stroke-width="0.3" text-anchor="middle" transform="rotate(-90 245 90.8)">g</text>
<text x="356.4" y="31.2" font-size="9.3" font-weight="bold" stroke="#000" stroke-width="0.3" text-anchor="middle" textLength="57.76" lengthAdjust="spacingAndGlyphs">DNA Bubble</text>
<text x="246" y="15.8" font-size="12.0" font-weight="bold" stroke="#000" stroke-width="0.3">b</text>
<rect x="351.4" y="43.7" width="60.5" height="47.4" rx="2" ry="2" fill="#ffffff" fill-opacity="0.8" stroke="#d4d4d4" stroke-width="0.9"/>
<line x1="354.1" y1="50.9" x2="372.6" y2="50.9" stroke="#000" stroke-width="1.8"/>
<path d="M361.4,67.3h4M363.4,65.3v4" stroke="#0000ff" stroke-width="1.2" fill="none"/>
<path d="M363.4,80l1.8,3.1l-1.8,3.1l-1.8,-3.1z" fill="#ff0000" stroke="#ff0000" stroke-width="0.3"/>
<text x="379.6" y="53.7" font-size="9.3" textLength="27.47" lengthAdjust="spacingAndGlyphs" fill="#1a1a1a">True <tspan font-weight="bold" stroke="#1a1a1a" stroke-width="0.25">g</tspan></text>
<text x="379.6" y="68.3" font-size="9.3" font-weight="bold" fill="#1a1a1a" stroke="#1a1a1a" stroke-width="0.25"><tspan textLength="6.23" lengthAdjust="spacingAndGlyphs">g</tspan><tspan font-size="7" dy="2.6">1</tspan></text>
<text x="379.6" y="84.8" font-size="9.3" textLength="29.04" lengthAdjust="spacingAndGlyphs" fill="#1a1a1a">Final <tspan font-weight="bold" stroke="#1a1a1a" stroke-width="0.25">g</tspan></text>
<path d="M381.41,62.8L382.91,61.3L384.41,62.8M404.23,79.3L405.73,77.8L407.23,79.3" fill="none" stroke="#1a1a1a" stroke-width="0.8"/>
<clipPath id="clipc"><rect x="496.2" y="16.6" width="186" height="146.2"/></clipPath>
<g clip-path="url(#clipc)">
<path d="M501.7,112h5.8M504.6,109.1v5.8M503.45,115h5.8M506.35,112.1v5.8M505.2,129.4h5.8M508.1,126.5v5.8M506.95,125.2h5.8M509.85,122.3v5.8M508.7,117.5h5.8M511.6,114.6v5.8M510.45,100.4h5.8M513.35,97.5v5.8M512.2,56.4h5.8M515.1,53.5v5.8M513.95,52.8h5.8M516.85,49.9v5.8M515.7,46.2h5.8M518.6,43.3v5.8M517.45,45.6h5.8M520.35,42.7v5.8M519.2,51.2h5.8M522.1,48.3v5.8M520.95,43.7h5.8M523.85,40.8v5.8M522.7,46.8h5.8M525.6,43.9v5.8M524.46,50h5.8M527.36,47.1v5.8M526.21,51h5.8M529.11,48.1v5.8M527.96,51.8h5.8M530.86,48.9v5.8M529.71,59.9h5.8M532.61,57v5.8M531.46,61.8h5.8M534.36,58.9v5.8M533.21,64.3h5.8M536.11,61.4v5.8M534.96,66.8h5.8M537.86,63.9v5.8M536.71,68.7h5.8M539.61,65.8v5.8M538.46,70.3h5.8M541.36,67.4v5.8M540.21,71.5h5.8M543.11,68.6v5.8M541.96,72.2h5.8M544.86,69.3v5.8M543.71,72.6h5.8M546.61,69.7v5.8M545.47,72.88h5.8M548.37,69.98v5.8M547.28,72.81h5.8M550.18,69.91v5.8M549.14,72.7h5.8M552.04,69.8v5.8M551.04,72.52h5.8M553.94,69.62v5.8M552.99,71.96h5.8M555.89,69.06v5.8M554.99,71.11h5.8M557.89,68.21v5.8M557.03,70.23h5.8M559.93,67.33v5.8M559.13,69.38h5.8M562.03,66.48v5.8M561.23,68.48h5.8M564.13,65.58v5.8M563.33,67.64h5.8M566.23,64.74v5.8M565.43,66.89h5.8M568.33,63.99v5.8M567.53,66.19h5.8M570.43,63.29v5.8M569.63,65.53h5.8M572.53,62.63v5.8M571.74,64.89h5.8M574.64,61.99v5.8M573.84,64.27h5.8M576.74,61.37v5.8M575.94,63.69h5.8M578.84,60.79v5.8M578.04,63.18h5.8M580.94,60.28v5.8M580.14,62.72h5.8M583.04,59.82v5.8M582.24,62.29h5.8M585.14,59.39v5.8M584.34,61.88h5.8M587.24,58.98v5.8M586.44,61.48h5.8M589.34,58.58v5.8M588.54,61.1h5.8M591.44,58.2v5.8M590.64,60.74h5.8M593.54,57.84v5.8M592.74,60.4h5.8M595.64,57.5v5.8M594.84,60.08h5.8M597.74,57.18v5.8M596.94,59.81h5.8M599.84,56.91v5.8M599.04,59.56h5.8M601.94,56.66v5.8M601.14,59.33h5.8M604.04,56.43v5.8M603.24,59.2h5.8M606.14,56.3v5.8M605.34,59.2h5.8M608.24,56.3v5.8M607.44,59.2h5.8M610.34,56.3v5.8M609.54,59.2h5.8M612.44,56.3v5.8M611.64,59.23h5.8M614.54,56.33v5.8M613.74,59.38h5.8M616.64,56.48v5.8M615.85,59.63h5.8M618.75,56.73v5.8M617.95,60.03h5.8M620.85,57.13v5.8M620.05,60.99h5.8M622.95,58.09v5.8M622.15,62.23h5.8M625.05,59.33v5.8M624.25,63.53h5.8M627.15,60.63v5.8M626.35,65.05h5.8M629.25,62.15v5.8M628.45,66.83h5.8M631.35,63.93v5.8M630.55,68.8h5.8M633.45,65.9v5.8M632.65,70.46h5.8M635.55,67.56v5.8M634.74,72.48h5.8M637.64,69.58v5.8M636.78,75.07h5.8M639.68,72.17v5.8M638.77,78.91h5.8M641.67,76.01v5.8M640.72,82.72h5.8M643.62,79.82v5.8M642.62,87.51h5.8M645.52,84.61v5.8M644.9,99.6h5.8M647.8,96.7v5.8M646.4,101.5h5.8M649.3,98.6v5.8M649.2,109.8h5.8M652.1,106.9v5.8M651,115.8h5.8M653.9,112.9v5.8M652.3,116.3h5.8M655.2,113.4v5.8M653.9,139.4h5.8M656.8,136.5v5.8M655.4,140.3h5.8M658.3,137.4v5.8M657.3,141.4h5.8M660.2,138.5v5.8M659.4,157.2h5.8M662.3,154.3v5.8M660.8,156.4h5.8M663.7,153.5v5.8M664.6,148.8h5.8M667.5,145.9v5.8M666.1,139.4h5.8M669,136.5v5.8M667.4,141h5.8M670.3,138.1v5.8M669.6,130.3h5.8M672.5,127.4v5.8M670.9,127.5h5.8M673.8,124.6v5.8" stroke="#0000ff" stroke-width="0.85" fill="none"/>
<path d="M504.6,98.71l1.65,2.7l-1.65,2.7l-1.65,-2.7zM506.35,96.25l1.65,2.7l-1.65,2.7l-1.65,-2.7zM508.1,98.17l1.65,2.7l-1.65,2.7l-1.65,-2.7zM509.85,95.9l1.65,2.7l-1.65,2.7l-1.65,-2.7zM511.6,97.06l1.65,2.7l-1.65,2.7l-1.65,-2.7zM513.35,95.02l1.65,2.7l-1.65,2.7l-1.65,-2.7zM515.1,95.23l1.65,2.7l-1.65,2.7l-1.65,-2.7zM516.85,94.06l1.65,2.7l-1.65,2.7l-1.65,-2.7zM518.6,92.53l1.65,2.7l-1.65,2.7l-1.65,-2.7zM520.35,92.19l1.65,2.7l-1.65,2.7l-1.65,-2.7zM522.1,91.05l1.65,2.7l-1.65,2.7l-1.65,-2.7zM523.85,89.46l1.65,2.7l-1.65,2.7l-1.65,-2.7zM525.6,88.91l1.65,2.7l-1.65,2.7l-1.65,-2.7zM527.36,88.43l1.65,2.7l-1.65,2.7l-1.65,-2.7zM529.11,86.5l1.65,2.7l-1.65,2.7l-1.65,-2.7zM530.86,85.7l1.65,2.7l-1.65,2.7l-1.65,-2.7zM532.61,85.02l1.65,2.7l-1.65,2.7l-1.65,-2.7zM534.36,83.22l1.65,2.7l-1.65,2.7l-1.65,-2.7zM536.11,82.9l1.65,2.7l-1.65,2.7l-1.65,-2.7zM537.86,81.72l1.65,2.7l-1.65,2.7l-1.65,-2.7zM539.61,80.92l1.65,2.7l-1.65,2.7l-1.65,-2.7zM541.36,79.85l1.65,2.7l-1.65,2.7l-1.65,-2.7zM543.11,79.34l1.65,2.7l-1.65,2.7l-1.65,-2.7zM544.86,77.78l1.65,2.7l-1.65,2.7l-1.65,-2.7zM546.61,77.1l1.65,2.7l-1.65,2.7l-1.65,-2.7zM548.37,75.76l1.65,2.7l-1.65,2.7l-1.65,-2.7zM550.18,75.47l1.65,2.7l-1.65,2.7l-1.65,-2.7zM552.04,74.55l1.65,2.7l-1.65,2.7l-1.65,-2.7zM553.94,74.33l1.65,2.7l-1.65,2.7l-1.65,-2.7zM555.89,73.51l1.65,2.7l-1.65,2.7l-1.65,-2.7zM557.89,71.92l1.65,2.7l-1.65,2.7l-1.65,-2.7zM559.93,71.04l1.65,2.7l-1.65,2.7l-1.65,-2.7zM562.03,70.32l1.65,2.7l-1.65,2.7l-1.65,-2.7zM564.13,69.6l1.65,2.7l-1.65,2.7l-1.65,-2.7zM566.23,69.34l1.65,2.7l-1.65,2.7l-1.65,-2.7zM568.33,68.37l1.65,2.7l-1.65,2.7l-1.65,-2.7zM570.43,67.58l1.65,2.7l-1.65,2.7l-1.65,-2.7zM572.53,66.74l1.65,2.7l-1.65,2.7l-1.65,-2.7zM574.64,65.53l1.65,2.7l-1.65,2.7l-1.65,-2.7zM576.74,65.16l1.65,2.7l-1.65,2.7l-1.65,-2.7zM578.84,65.04l1.65,2.7l-1.65,2.7l-1.65,-2.7zM580.94,64.14l1.65,2.7l-1.65,2.7l-1.65,-2.7zM583.04,63.17l1.65,2.7l-1.65,2.7l-1.65,-2.7zM585.14,62.08l1.65,2.7l-1.65,2.7l-1.65,-2.7zM587.24,62.08l1.65,2.7l-1.65,2.7l-1.65,-2.7zM589.34,60.87l1.65,2.7l-1.65,2.7l-1.65,-2.7zM591.44,60.35l1.65,2.7l-1.65,2.7l-1.65,-2.7zM593.54,59.21l1.65,2.7l-1.65,2.7l-1.65,-2.7zM595.64,58.62l1.65,2.7l-1.65,2.7l-1.65,-2.7zM597.74,57.92l1.65,2.7l-1.65,2.7l-1.65,-2.7zM599.84,57.25l1.65,2.7l-1.65,2.7l-1.65,-2.7zM601.94,56.16l1.65,2.7l-1.65,2.7l-1.65,-2.7zM604.04,56.08l1.65,2.7l-1.65,2.7l-1.65,-2.7zM606.14,54.87l1.65,2.7l-1.65,2.7l-1.65,-2.7zM608.24,54.59l1.65,2.7l-1.65,2.7l-1.65,-2.7zM610.34,53.89l1.65,2.7l-1.65,2.7l-1.65,-2.7zM612.44,53.25l1.65,2.7l-1.65,2.7l-1.65,-2.7zM614.54,52.13l1.65,2.7l-1.65,2.7l-1.65,-2.7zM616.64,51.41l1.65,2.7l-1.65,2.7l-1.65,-2.7zM618.75,51.15l1.65,2.7l-1.65,2.7l-1.65,-2.7zM620.85,50.08l1.65,2.7l-1.65,2.7l-1.65,-2.7zM622.95,49.21l1.65,2.7l-1.65,2.7l-1.65,-2.7zM625.05,49.38l1.65,2.7l-1.65,2.7l-1.65,-2.7zM627.15,47.92l1.65,2.7l-1.65,2.7l-1.65,-2.7zM629.25,48.22l1.65,2.7l-1.65,2.7l-1.65,-2.7zM631.35,46.98l1.65,2.7l-1.65,2.7l-1.65,-2.7zM633.45,46.35l1.65,2.7l-1.65,2.7l-1.65,-2.7zM635.55,46.23l1.65,2.7l-1.65,2.7l-1.65,-2.7zM637.64,44.95l1.65,2.7l-1.65,2.7l-1.65,-2.7zM639.68,44.5l1.65,2.7l-1.65,2.7l-1.65,-2.7zM641.67,43.47l1.65,2.7l-1.65,2.7l-1.65,-2.7zM643.62,43.24l1.65,2.7l-1.65,2.7l-1.65,-2.7zM645.52,42.31l1.65,2.7l-1.65,2.7l-1.65,-2.7zM647.38,41.34l1.65,2.7l-1.65,2.7l-1.65,-2.7zM649.19,40.82l1.65,2.7l-1.65,2.7l-1.65,-2.7zM650.99,41.58l1.65,2.7l-1.65,2.7l-1.65,-2.7zM652.8,41.73l1.65,2.7l-1.65,2.7l-1.65,-2.7zM654.6,41.55l1.65,2.7l-1.65,2.7l-1.65,-2.7zM656.4,42.54l1.65,2.7l-1.65,2.7l-1.65,-2.7zM658.2,42.23l1.65,2.7l-1.65,2.7l-1.65,-2.7zM660,43.26l1.65,2.7l-1.65,2.7l-1.65,-2.7zM661.8,43.25l1.65,2.7l-1.65,2.7l-1.65,-2.7zM663.6,44.34l1.65,2.7l-1.65,2.7l-1.65,-2.7zM665.4,44.5l1.65,2.7l-1.65,2.7l-1.65,-2.7zM667.2,42.29l1.65,2.7l-1.65,2.7l-1.65,-2.7zM669,40.65l1.65,2.7l-1.65,2.7l-1.65,-2.7zM670.8,41.05l1.65,2.7l-1.65,2.7l-1.65,-2.7zM672.6,40.89l1.65,2.7l-1.65,2.7l-1.65,-2.7zM674.4,41.07l1.65,2.7l-1.65,2.7l-1.65,-2.7zM664.3,37.1l1.65,2.7l-1.65,2.7l-1.65,-2.7zM515.98,94.45l1.65,2.7l-1.65,2.7l-1.65,-2.7zM517.73,93.42l1.65,2.7l-1.65,2.7l-1.65,-2.7zM519.48,92.2l1.65,2.7l-1.65,2.7l-1.65,-2.7zM521.23,91.27l1.65,2.7l-1.65,2.7l-1.65,-2.7zM522.98,90.19l1.65,2.7l-1.65,2.7l-1.65,-2.7zM524.73,89.82l1.65,2.7l-1.65,2.7l-1.65,-2.7zM526.48,88.52l1.65,2.7l-1.65,2.7l-1.65,-2.7zM528.23,87.09l1.65,2.7l-1.65,2.7l-1.65,-2.7zM529.98,86.63l1.65,2.7l-1.65,2.7l-1.65,-2.7zM531.73,85.81l1.65,2.7l-1.65,2.7l-1.65,-2.7zM533.48,84.62l1.65,2.7l-1.65,2.7l-1.65,-2.7zM535.23,83.21l1.65,2.7l-1.65,2.7l-1.65,-2.7zM536.98,81.66l1.65,2.7l-1.65,2.7l-1.65,-2.7zM538.73,81.47l1.65,2.7l-1.65,2.7l-1.65,-2.7zM540.48,80.67l1.65,2.7l-1.65,2.7l-1.65,-2.7zM542.23,79.62l1.65,2.7l-1.65,2.7l-1.65,-2.7zM543.98,78.34l1.65,2.7l-1.65,2.7l-1.65,-2.7zM545.73,77.35l1.65,2.7l-1.65,2.7l-1.65,-2.7zM547.49,76.85l1.65,2.7l-1.65,2.7l-1.65,-2.7zM549.28,75.42l1.65,2.7l-1.65,2.7l-1.65,-2.7zM551.11,75.31l1.65,2.7l-1.65,2.7l-1.65,-2.7zM552.99,74.23l1.65,2.7l-1.65,2.7l-1.65,-2.7zM554.91,73.02l1.65,2.7l-1.65,2.7l-1.65,-2.7zM556.89,72.99l1.65,2.7l-1.65,2.7l-1.65,-2.7zM558.91,71.78l1.65,2.7l-1.65,2.7l-1.65,-2.7zM560.98,70.7l1.65,2.7l-1.65,2.7l-1.65,-2.7zM563.08,69.98l1.65,2.7l-1.65,2.7l-1.65,-2.7zM565.18,69.87l1.65,2.7l-1.65,2.7l-1.65,-2.7zM567.28,68.39l1.65,2.7l-1.65,2.7l-1.65,-2.7zM569.38,68.22l1.65,2.7l-1.65,2.7l-1.65,-2.7zM571.48,67.47l1.65,2.7l-1.65,2.7l-1.65,-2.7zM573.58,65.98l1.65,2.7l-1.65,2.7l-1.65,-2.7zM575.69,65.58l1.65,2.7l-1.65,2.7l-1.65,-2.7zM577.79,65.19l1.65,2.7l-1.65,2.7l-1.65,-2.7zM579.89,64.17l1.65,2.7l-1.65,2.7l-1.65,-2.7zM581.99,63.82l1.65,2.7l-1.65,2.7l-1.65,-2.7zM584.09,62.62l1.65,2.7l-1.65,2.7l-1.65,-2.7zM586.19,62.15l1.65,2.7l-1.65,2.7l-1.65,-2.7zM588.29,61.02l1.65,2.7l-1.65,2.7l-1.65,-2.7zM590.39,60.93l1.65,2.7l-1.65,2.7l-1.65,-2.7zM592.49,60.21l1.65,2.7l-1.65,2.7l-1.65,-2.7zM594.59,59.22l1.65,2.7l-1.65,2.7l-1.65,-2.7zM596.69,58.26l1.65,2.7l-1.65,2.7l-1.65,-2.7zM598.79,57.56l1.65,2.7l-1.65,2.7l-1.65,-2.7zM600.89,57.09l1.65,2.7l-1.65,2.7l-1.65,-2.7zM602.99,55.91l1.65,2.7l-1.65,2.7l-1.65,-2.7zM605.09,55.57l1.65,2.7l-1.65,2.7l-1.65,-2.7zM607.19,54.64l1.65,2.7l-1.65,2.7l-1.65,-2.7zM609.29,53.97l1.65,2.7l-1.65,2.7l-1.65,-2.7zM611.39,53.23l1.65,2.7l-1.65,2.7l-1.65,-2.7zM613.49,53.03l1.65,2.7l-1.65,2.7l-1.65,-2.7zM615.59,51.65l1.65,2.7l-1.65,2.7l-1.65,-2.7zM617.69,50.99l1.65,2.7l-1.65,2.7l-1.65,-2.7zM619.8,50.2l1.65,2.7l-1.65,2.7l-1.65,-2.7zM621.9,49.38l1.65,2.7l-1.65,2.7l-1.65,-2.7zM624,49.18l1.65,2.7l-1.65,2.7l-1.65,-2.7zM626.1,49.04l1.65,2.7l-1.65,2.7l-1.65,-2.7zM628.2,48.53l1.65,2.7l-1.65,2.7l-1.65,-2.7zM630.3,47.5l1.65,2.7l-1.65,2.7l-1.65,-2.7zM632.4,46.75l1.65,2.7l-1.65,2.7l-1.65,-2.7zM634.5,46.48l1.65,2.7l-1.65,2.7l-1.65,-2.7zM636.59,45.41l1.65,2.7l-1.65,2.7l-1.65,-2.7zM638.66,44.7l1.65,2.7l-1.65,2.7l-1.65,-2.7zM640.67,44.07l1.65,2.7l-1.65,2.7l-1.65,-2.7zM642.64,42.78l1.65,2.7l-1.65,2.7l-1.65,-2.7zM644.57,42.8l1.65,2.7l-1.65,2.7l-1.65,-2.7zM646.45,41.33l1.65,2.7l-1.65,2.7l-1.65,-2.7z" fill="#ff0000" stroke="#ff0000" stroke-width="0.3"/>
<path d="M504.6,92.6 L674.38,34.59" fill="none" stroke="#000" stroke-width="1.7" stroke-linejoin="round"/>
<line x1="524.9" y1="162.8" x2="524.9" y2="16.6" stroke="#0000ff" stroke-width="1.7" stroke-dasharray="6,2.55"/>
<line x1="648.3" y1="162.8" x2="648.3" y2="16.6" stroke="#0000ff" stroke-width="1.7" stroke-dasharray="6,2.55"/>
</g>
<path d="M504.6,162.8v-3.0M538.9,162.8v-3.0M573.2,162.8v-3.0M607.5,162.8v-3.0M641.8,162.8v-3.0M676.1,162.8v-3.0M496.2,34h3.0M496.2,63.3h3.0M496.2,92.6h3.0M496.2,121.9h3.0M496.2,151.2h3.0" stroke="#1e1e1e" stroke-width="1.4"/>
<rect x="496.2" y="16.6" width="186" height="146.2" fill="none" stroke="#1e1e1e" stroke-width="1.55"/>
<text x="504.6" y="172.1" font-size="9.4" font-weight="bold" stroke="#000" stroke-width="0.3" text-anchor="middle" textLength="14.44" lengthAdjust="spacingAndGlyphs">0.0</text>
<text x="538.9" y="172.1" font-size="9.4" font-weight="bold" stroke="#000" stroke-width="0.3" text-anchor="middle" textLength="14.44" lengthAdjust="spacingAndGlyphs">0.2</text>
<text x="573.2" y="172.1" font-size="9.4" font-weight="bold" stroke="#000" stroke-width="0.3" text-anchor="middle" textLength="14.44" lengthAdjust="spacingAndGlyphs">0.4</text>
<text x="607.5" y="172.1" font-size="9.4" font-weight="bold" stroke="#000" stroke-width="0.3" text-anchor="middle" textLength="14.44" lengthAdjust="spacingAndGlyphs">0.6</text>
<text x="641.8" y="172.1" font-size="9.4" font-weight="bold" stroke="#000" stroke-width="0.3" text-anchor="middle" textLength="14.44" lengthAdjust="spacingAndGlyphs">0.8</text>
<text x="676.1" y="172.1" font-size="9.4" font-weight="bold" stroke="#000" stroke-width="0.3" text-anchor="middle" textLength="14.44" lengthAdjust="spacingAndGlyphs">1.0</text>
<text x="493.6" y="36.95" font-size="9.4" font-weight="bold" stroke="#000" stroke-width="0.3" text-anchor="end" textLength="14.44" lengthAdjust="spacingAndGlyphs">0.0</text>
<text x="493.6" y="66.25" font-size="9.4" font-weight="bold" stroke="#000" stroke-width="0.3" text-anchor="end" textLength="21.27" lengthAdjust="spacingAndGlyphs">−0.5</text>
<text x="493.6" y="95.55" font-size="9.4" font-weight="bold" stroke="#000" stroke-width="0.3" text-anchor="end" textLength="21.27" lengthAdjust="spacingAndGlyphs">−1.0</text>
<text x="493.6" y="124.85" font-size="9.4" font-weight="bold" stroke="#000" stroke-width="0.3" text-anchor="end" textLength="21.27" lengthAdjust="spacingAndGlyphs">−1.5</text>
<text x="493.6" y="154.15" font-size="9.4" font-weight="bold" stroke="#000" stroke-width="0.3" text-anchor="end" textLength="21.27" lengthAdjust="spacingAndGlyphs">−2.0</text>
<text x="589.2" y="182.7" font-size="9.0" font-weight="bold" stroke="#000" stroke-width="0.3" text-anchor="middle">x</text>
<text x="467.6" y="90.8" font-size="9.6" font-weight="bold" stroke="#000" stroke-width="0.3" text-anchor="middle" transform="rotate(-90 467.6 90.8)">g</text>
<text x="589.2" y="31.2" font-size="9.3" font-weight="bold" stroke="#000" stroke-width="0.3" text-anchor="middle" textLength="73.62" lengthAdjust="spacingAndGlyphs">Agent's Wealth</text>
<text x="481.9" y="16" font-size="12.0" font-weight="bold" stroke="#000" stroke-width="0.3">c</text>
<rect x="537.5" y="102" width="60.5" height="47.4" rx="2" ry="2" fill="#ffffff" fill-opacity="0.8" stroke="#d4d4d4" stroke-width="0.9"/>
<line x1="540.2" y1="109.2" x2="558.7" y2="109.2" stroke="#000" stroke-width="1.8"/>
<path d="M546.6,125.6h5.8M549.5,122.7v5.8" stroke="#0000ff" stroke-width="0.9" fill="none"/>
<path d="M549.5,138.4l1.8,3l-1.8,3l-1.8,-3z" fill="#ff0000" stroke="#ff0000" stroke-width="0.3"/>
<text x="565.7" y="112" font-size="9.3" textLength="27.47" lengthAdjust="spacingAndGlyphs" fill="#1a1a1a">True <tspan font-weight="bold" stroke="#1a1a1a" stroke-width="0.25">g</tspan></text>
<text x="565.7" y="126.6" font-size="9.3" font-weight="bold" fill="#1a1a1a" stroke="#1a1a1a" stroke-width="0.25"><tspan textLength="6.23" lengthAdjust="spacingAndGlyphs">g</tspan><tspan font-size="7" dy="2.6">1</tspan></text>
<text x="565.7" y="143.1" font-size="9.3" textLength="29.04" lengthAdjust="spacingAndGlyphs" fill="#1a1a1a">Final <tspan font-weight="bold" stroke="#1a1a1a" stroke-width="0.25">g</tspan></text>
<path d="M567.51,121.1L569.01,119.6L570.51,121.1M590.33,137.6L591.83,136.1L593.33,137.6" fill="none" stroke="#1a1a1a" stroke-width="0.8"/>
<clipPath id="clipd"><rect x="29.8" y="192.7" width="186.5" height="146.1"/></clipPath>
<g clip-path="url(#clipd)">
<path d="M36.15,326.28h4.2M38.25,324.18v4.2M38.98,327.36h4.2M41.08,325.26v4.2M41.8,326.75h4.2M43.9,324.65v4.2M44.62,327.7h4.2M46.73,325.6v4.2M47.45,328.23h4.2M49.55,326.13v4.2M50.27,329.08h4.2M52.38,326.98v4.2M53.1,330.1h4.2M55.2,328v4.2M55.93,331.22h4.2M58.03,329.12v4.2M58.75,332.35h4.2M60.85,330.25v4.2M61.57,333.52h4.2M63.67,331.42v4.2M64.4,334.29h4.2M66.5,332.19v4.2M67.23,334.16h4.2M69.33,332.06v4.2M70.05,333.59h4.2M72.15,331.49v4.2M72.88,332.02h4.2M74.97,329.92v4.2M75.7,330.36h4.2M77.8,328.26v4.2M78.53,328.61h4.2M80.62,326.51v4.2M81.35,326.76h4.2M83.45,324.66v4.2M84.18,324.86h4.2M86.28,322.76v4.2M87,322.88h4.2M89.1,320.78v4.2M89.83,320.92h4.2M91.93,318.82v4.2M92.65,318.96h4.2M94.75,316.86v4.2M95.48,317.32h4.2M97.58,315.22v4.2M98.3,316.17h4.2M100.4,314.07v4.2M101.13,315.28h4.2M103.23,313.18v4.2M103.95,314.53h4.2M106.05,312.43v4.2M106.78,313.92h4.2M108.88,311.82v4.2M109.6,313.44h4.2M111.7,311.34v4.2M112.43,313.06h4.2M114.53,310.96v4.2M115.25,312.72h4.2M117.35,310.62v4.2M118.08,312.36h4.2M120.18,310.26v4.2M120.9,311.99h4.2M123,309.89v4.2M123.73,311.61h4.2M125.83,309.51v4.2M126.55,311.27h4.2M128.65,309.17v4.2M129.38,310.99h4.2M131.48,308.89v4.2M132.2,310.75h4.2M134.3,308.65v4.2M135.03,310.53h4.2M137.12,308.43v4.2M137.85,310.35h4.2M139.95,308.25v4.2M140.68,310.17h4.2M142.78,308.07v4.2M143.5,309.99h4.2M145.6,307.89v4.2M146.33,309.85h4.2M148.43,307.75v4.2M149.15,309.8h4.2M151.25,307.7v4.2M151.97,309.8h4.2M154.07,307.7v4.2M154.8,309.8h4.2M156.9,307.7v4.2M157.63,309.8h4.2M159.73,307.7v4.2M160.45,309.99h4.2M162.55,307.89v4.2M163.28,310.47h4.2M165.38,308.37v4.2M166.1,311.08h4.2M168.2,308.98v4.2M168.93,311.98h4.2M171.03,309.88v4.2M171.75,313.09h4.2M173.85,310.99v4.2M174.58,314.57h4.2M176.68,312.47v4.2M177.4,316.26h4.2M179.5,314.16v4.2M180.23,318.13h4.2M182.33,316.03v4.2M183.05,320.17h4.2M185.15,318.07v4.2M185.88,322.31h4.2M187.98,320.21v4.2M188.7,324.56h4.2M190.8,322.46v4.2M191.53,327.03h4.2M193.62,324.93v4.2M194.35,329.01h4.2M196.45,326.91v4.2M197.18,330.07h4.2M199.28,327.97v4.2M200,330.04h4.2M202.1,327.94v4.2M202.83,329.25h4.2M204.93,327.15v4.2M205.65,326.83h4.2M207.75,324.73v4.2" stroke="#0000ff" stroke-width="0.9" fill="none"/>
<path d="M38.25,273.7l1.75,3l-1.75,3l-1.75,-3zM39.9,280.4l1.75,3l-1.75,3l-1.75,-3zM41.08,288.37l1.75,3l-1.75,3l-1.75,-3zM43.9,285.58l1.75,3l-1.75,3l-1.75,-3zM46.73,283.37l1.75,3l-1.75,3l-1.75,-3zM49.55,281.97l1.75,3l-1.75,3l-1.75,-3zM52.38,281.05l1.75,3l-1.75,3l-1.75,-3zM55.2,280.49l1.75,3l-1.75,3l-1.75,-3zM58.03,280.25l1.75,3l-1.75,3l-1.75,-3zM60.85,279.88l1.75,3l-1.75,3l-1.75,-3zM63.67,279.71l1.75,3l-1.75,3l-1.75,-3zM66.5,279.46l1.75,3l-1.75,3l-1.75,-3zM69.33,279.4l1.75,3l-1.75,3l-1.75,-3zM72.15,278.71l1.75,3l-1.75,3l-1.75,-3zM74.97,278.87l1.75,3l-1.75,3l-1.75,-3zM77.8,278.33l1.75,3l-1.75,3l-1.75,-3zM80.62,278.66l1.75,3l-1.75,3l-1.75,-3zM83.45,278.9l1.75,3l-1.75,3l-1.75,-3zM86.28,278.58l1.75,3l-1.75,3l-1.75,-3zM89.1,278.44l1.75,3l-1.75,3l-1.75,-3zM91.93,278.48l1.75,3l-1.75,3l-1.75,-3zM94.75,278.67l1.75,3l-1.75,3l-1.75,-3zM97.58,279.22l1.75,3l-1.75,3l-1.75,-3zM100.4,279.4l1.75,3l-1.75,3l-1.75,-3zM103.23,279.39l1.75,3l-1.75,3l-1.75,-3zM106.05,279.79l1.75,3l-1.75,3l-1.75,-3zM108.88,279.85l1.75,3l-1.75,3l-1.75,-3zM111.7,279.71l1.75,3l-1.75,3l-1.75,-3zM114.53,280.06l1.75,3l-1.75,3l-1.75,-3zM117.35,280.48l1.75,3l-1.75,3l-1.75,-3zM120.18,280.67l1.75,3l-1.75,3l-1.75,-3zM123,280.85l1.75,3l-1.75,3l-1.75,-3zM125.83,280.89l1.75,3l-1.75,3l-1.75,-3zM128.65,280.8l1.75,3l-1.75,3l-1.75,-3zM131.48,281.6l1.75,3l-1.75,3l-1.75,-3zM134.3,281.12l1.75,3l-1.75,3l-1.75,-3zM137.12,281.79l1.75,3l-1.75,3l-1.75,-3zM139.95,281.16l1.75,3l-1.75,3l-1.75,-3zM142.78,281.89l1.75,3l-1.75,3l-1.75,-3zM145.6,281.44l1.75,3l-1.75,3l-1.75,-3zM148.43,281.82l1.75,3l-1.75,3l-1.75,-3zM151.25,281.2l1.75,3l-1.75,3l-1.75,-3zM154.07,281.56l1.75,3l-1.75,3l-1.75,-3zM156.9,281.36l1.75,3l-1.75,3l-1.75,-3zM159.73,281.56l1.75,3l-1.75,3l-1.75,-3zM162.55,281.29l1.75,3l-1.75,3l-1.75,-3zM165.38,280.84l1.75,3l-1.75,3l-1.75,-3zM168.2,280.72l1.75,3l-1.75,3l-1.75,-3zM171.03,280.52l1.75,3l-1.75,3l-1.75,-3zM173.85,279.31l1.75,3l-1.75,3l-1.75,-3zM176.68,279.15l1.75,3l-1.75,3l-1.75,-3zM179.5,278.67l1.75,3l-1.75,3l-1.75,-3zM182.33,277.98l1.75,3l-1.75,3l-1.75,-3zM185.15,276.95l1.75,3l-1.75,3l-1.75,-3zM187.98,276.58l1.75,3l-1.75,3l-1.75,-3zM190.8,275.06l1.75,3l-1.75,3l-1.75,-3zM193.62,274.52l1.75,3l-1.75,3l-1.75,-3zM196.45,273.38l1.75,3l-1.75,3l-1.75,-3zM199.28,273.47l1.75,3l-1.75,3l-1.75,-3zM202.1,274.91l1.75,3l-1.75,3l-1.75,-3zM204.93,275.51l1.75,3l-1.75,3l-1.75,-3zM207.75,279.11l1.75,3l-1.75,3l-1.75,-3zM42.49,287.19l1.75,3l-1.75,3l-1.75,-3zM45.31,285l1.75,3l-1.75,3l-1.75,-3zM48.14,283.13l1.75,3l-1.75,3l-1.75,-3zM50.96,281.68l1.75,3l-1.75,3l-1.75,-3zM53.79,280.71l1.75,3l-1.75,3l-1.75,-3zM56.61,280.14l1.75,3l-1.75,3l-1.75,-3zM59.44,279.46l1.75,3l-1.75,3l-1.75,-3zM62.26,279.73l1.75,3l-1.75,3l-1.75,-3zM65.09,279.08l1.75,3l-1.75,3l-1.75,-3zM67.91,279l1.75,3l-1.75,3l-1.75,-3zM70.74,278.87l1.75,3l-1.75,3l-1.75,-3zM73.56,278.83l1.75,3l-1.75,3l-1.75,-3zM76.39,278.91l1.75,3l-1.75,3l-1.75,-3zM79.21,278.64l1.75,3l-1.75,3l-1.75,-3zM82.04,278.65l1.75,3l-1.75,3l-1.75,-3zM84.86,278.29l1.75,3l-1.75,3l-1.75,-3zM87.69,278.47l1.75,3l-1.75,3l-1.75,-3zM90.51,278.39l1.75,3l-1.75,3l-1.75,-3zM93.34,278.89l1.75,3l-1.75,3l-1.75,-3zM96.16,278.43l1.75,3l-1.75,3l-1.75,-3zM98.99,279.05l1.75,3l-1.75,3l-1.75,-3zM101.81,279.26l1.75,3l-1.75,3l-1.75,-3zM104.64,279.3l1.75,3l-1.75,3l-1.75,-3zM107.46,279.16l1.75,3l-1.75,3l-1.75,-3zM110.29,279.57l1.75,3l-1.75,3l-1.75,-3zM113.11,279.79l1.75,3l-1.75,3l-1.75,-3zM115.94,280.02l1.75,3l-1.75,3l-1.75,-3zM118.76,280.21l1.75,3l-1.75,3l-1.75,-3zM121.59,280.98l1.75,3l-1.75,3l-1.75,-3zM124.41,281.04l1.75,3l-1.75,3l-1.75,-3zM127.24,281.31l1.75,3l-1.75,3l-1.75,-3zM130.06,281.33l1.75,3l-1.75,3l-1.75,-3zM132.89,281.17l1.75,3l-1.75,3l-1.75,-3zM135.71,281.74l1.75,3l-1.75,3l-1.75,-3zM138.54,281.42l1.75,3l-1.75,3l-1.75,-3zM141.36,281.23l1.75,3l-1.75,3l-1.75,-3zM144.19,281.71l1.75,3l-1.75,3l-1.75,-3zM147.01,281.36l1.75,3l-1.75,3l-1.75,-3zM149.84,281.84l1.75,3l-1.75,3l-1.75,-3zM152.66,281.79l1.75,3l-1.75,3l-1.75,-3zM155.49,281.43l1.75,3l-1.75,3l-1.75,-3zM158.31,281.47l1.75,3l-1.75,3l-1.75,-3zM161.14,281.46l1.75,3l-1.75,3l-1.75,-3zM163.96,281.15l1.75,3l-1.75,3l-1.75,-3zM166.79,280.75l1.75,3l-1.75,3l-1.75,-3zM169.61,280.13l1.75,3l-1.75,3l-1.75,-3zM172.44,279.75l1.75,3l-1.75,3l-1.75,-3zM175.26,279.53l1.75,3l-1.75,3l-1.75,-3zM178.09,278.79l1.75,3l-1.75,3l-1.75,-3zM180.91,278.38l1.75,3l-1.75,3l-1.75,-3zM183.74,277.66l1.75,3l-1.75,3l-1.75,-3zM186.56,276.62l1.75,3l-1.75,3l-1.75,-3zM189.39,275.46l1.75,3l-1.75,3l-1.75,-3zM192.21,274.91l1.75,3l-1.75,3l-1.75,-3zM195.04,273.55l1.75,3l-1.75,3l-1.75,-3zM197.86,273.56l1.75,3l-1.75,3l-1.75,-3zM200.69,273.78l1.75,3l-1.75,3l-1.75,-3zM203.51,275.02l1.75,3l-1.75,3l-1.75,-3zM206.34,276.44l1.75,3l-1.75,3l-1.75,-3z" fill="#ff0000" stroke="#ff0000" stroke-width="0.3"/>
<path d="M38.25,284.2 L207.75,284.2" fill="none" stroke="#000" stroke-width="1.7" stroke-linejoin="round"/>
<line x1="67.4" y1="338.8" x2="67.4" y2="192.7" stroke="#0000ff" stroke-width="1.7" stroke-dasharray="6,2.55"/>
<line x1="195" y1="338.8" x2="195" y2="192.7" stroke="#0000ff" stroke-width="1.7" stroke-dasharray="6,2.55"/>
</g>
<path d="M53.8,338.8v-3.0M84.9,338.8v-3.0M116,338.8v-3.0M147.1,338.8v-3.0M178.2,338.8v-3.0M209.3,338.8v-3.0M29.8,328.3h3.0M29.8,294.4h3.0M29.8,260.5h3.0M29.8,226.6h3.0" stroke="#1e1e1e" stroke-width="1.4"/>
<rect x="29.8" y="192.7" width="186.5" height="146.1" fill="none" stroke="#1e1e1e" stroke-width="1.55"/>
<text x="53.8" y="348.1" font-size="9.4" font-weight="bold" stroke="#000" stroke-width="0.3" text-anchor="middle" textLength="20.11" lengthAdjust="spacingAndGlyphs">0.00</text>
<text x="84.9" y="348.1" font-size="9.4" font-weight="bold" stroke="#000" stroke-width="0.3" text-anchor="middle" textLength="20.11" lengthAdjust="spacingAndGlyphs">0.02</text>
<text x="116" y="348.1" font-size="9.4" font-weight="bold" stroke="#000" stroke-width="0.3" text-anchor="middle" textLength="20.11" lengthAdjust="spacingAndGlyphs">0.04</text>
<text x="147.1" y="348.1" font-size="9.4" font-weight="bold" stroke="#000" stroke-width="0.3" text-anchor="middle" textLength="20.11" lengthAdjust="spacingAndGlyphs">0.06</text>
<text x="178.2" y="348.1" font-size="9.4" font-weight="bold" stroke="#000" stroke-width="0.3" text-anchor="middle" textLength="20.11" lengthAdjust="spacingAndGlyphs">0.08</text>
<text x="209.3" y="348.1" font-size="9.4" font-weight="bold" stroke="#000" stroke-width="0.3" text-anchor="middle" textLength="20.11" lengthAdjust="spacingAndGlyphs">0.10</text>
<text x="27.2" y="331.25" font-size="9.4" font-weight="bold" stroke="#000" stroke-width="0.3" text-anchor="end" textLength="5.67" lengthAdjust="spacingAndGlyphs">0</text>
<text x="27.2" y="297.35" font-size="9.4" font-weight="bold" stroke="#000" stroke-width="0.3" text-anchor="end" textLength="5.67" lengthAdjust="spacingAndGlyphs">1</text>
<text x="27.2" y="263.45" font-size="9.4" font-weight="bold" stroke="#000" stroke-width="0.3" text-anchor="end" textLength="5.67" lengthAdjust="spacingAndGlyphs">2</text>
<text x="27.2" y="229.55" font-size="9.4" font-weight="bold" stroke="#000" stroke-width="0.3" text-anchor="end" textLength="5.67" lengthAdjust="spacingAndGlyphs">3</text>
<text x="123.05" y="358.7" font-size="9.0" font-weight="bold" stroke="#000" stroke-width="0.3" text-anchor="middle">x</text>
<text x="16.9" y="266.1" font-size="9.6" font-weight="bold" stroke="#000" stroke-width="0.3" text-anchor="middle" textLength="35" lengthAdjust="spacingAndGlyphs" transform="rotate(-90 16.9 266.1)">h(10<tspan font-size="6.6" dy="-3.6">−4</tspan><tspan dy="3.6">)</tspan></text>
<text x="123.05" y="206.8" font-size="9.3" font-weight="bold" stroke="#000" stroke-width="0.3" text-anchor="middle" textLength="46.43" lengthAdjust="spacingAndGlyphs">Heat Flux</text>
<text x="13.2" y="194.6" font-size="12.0" font-weight="bold" stroke="#000" stroke-width="0.3">d</text>
<rect x="127.4" y="212.2" width="60.5" height="47.4" rx="2" ry="2" fill="#ffffff" fill-opacity="0.8" stroke="#d4d4d4" stroke-width="0.9"/>
<line x1="130.1" y1="219.4" x2="148.6" y2="219.4" stroke="#000" stroke-width="1.8"/>
<path d="M137.4,235.8h4M139.4,233.8v4" stroke="#0000ff" stroke-width="1.2" fill="none"/>
<path d="M139.4,248.5l1.8,3.1l-1.8,3.1l-1.8,-3.1z" fill="#ff0000" stroke="#ff0000" stroke-width="0.3"/>
<text x="155.6" y="222.2" font-size="9.3" textLength="27.44" lengthAdjust="spacingAndGlyphs" fill="#1a1a1a">True <tspan font-weight="bold" stroke="#1a1a1a" stroke-width="0.25">h</tspan></text>
<text x="155.6" y="237.2" font-size="9.3" font-weight="bold" fill="#1a1a1a" stroke="#1a1a1a" stroke-width="0.25"><tspan textLength="6.19" lengthAdjust="spacingAndGlyphs">h</tspan><tspan font-size="7" dy="2.6">1</tspan></text>
<text x="155.6" y="253.3" font-size="9.3" textLength="29.01" lengthAdjust="spacingAndGlyphs" fill="#1a1a1a">Final <tspan font-weight="bold" stroke="#1a1a1a" stroke-width="0.25">h</tspan></text>
<path d="M157.4,229.5L158.9,228L160.4,229.5M180.21,245.6L181.71,244.1L183.21,245.6" fill="none" stroke="#1a1a1a" stroke-width="0.8"/>
<clipPath id="clipe"><rect x="263" y="192.7" width="186.6" height="146.1"/></clipPath>
<g clip-path="url(#clipe)">
<path d="M269.25,198.7h4.2M271.35,196.6v4.2M270.96,255.5h4.2M273.06,253.4v4.2M272.67,283h4.2M274.77,280.9v4.2M274.39,301.6h4.2M276.49,299.5v4.2M276.1,316.9h4.2M278.2,314.8v4.2M277.81,327.3h4.2M279.91,325.2v4.2M279.52,332.3h4.2M281.62,330.2v4.2M281.23,332.3h4.2M283.33,330.2v4.2M282.95,328.2h4.2M285.05,326.1v4.2M284.66,322.9h4.2M286.76,320.8v4.2M286.37,315.7h4.2M288.47,313.6v4.2M288.08,309.4h4.2M290.18,307.3v4.2M289.79,302.4h4.2M291.89,300.3v4.2M291.51,297.1h4.2M293.61,295v4.2M293.22,292h4.2M295.32,289.9v4.2M294.93,288.3h4.2M297.03,286.2v4.2M296.64,285h4.2M298.74,282.9v4.2M298.35,281.7h4.2M300.45,279.6v4.2M300.07,280.22h4.2M302.17,278.12v4.2M301.82,278.9h4.2M303.92,276.8v4.2M303.61,278.02h4.2M305.71,275.92v4.2M305.43,277.41h4.2M307.53,275.31v4.2M307.29,276.93h4.2M309.39,274.83v4.2M309.18,276.48h4.2M311.28,274.38v4.2M311.12,276.3h4.2M313.22,274.2v4.2M313.09,276.3h4.2M315.19,274.2v4.2M315.1,276.3h4.2M317.2,274.2v4.2M317.12,276.3h4.2M319.22,274.2v4.2M319.13,276.3h4.2M321.23,274.2v4.2M321.15,276.3h4.2M323.25,274.2v4.2M323.18,276.3h4.2M325.28,274.2v4.2M325.2,276.31h4.2M327.3,274.21v4.2M327.22,276.32h4.2M329.32,274.22v4.2M329.25,276.34h4.2M331.35,274.24v4.2M331.28,276.37h4.2M333.38,274.27v4.2M333.31,276.41h4.2M335.41,274.31v4.2M335.34,276.45h4.2M337.44,274.35v4.2M337.38,276.49h4.2M339.48,274.39v4.2M339.41,276.55h4.2M341.51,274.45v4.2M341.45,276.6h4.2M343.55,274.5v4.2M343.49,276.66h4.2M345.59,274.56v4.2M345.53,276.73h4.2M347.63,274.63v4.2M347.57,276.8h4.2M349.67,274.7v4.2M349.62,276.88h4.2M351.72,274.78v4.2M351.67,277h4.2M353.77,274.9v4.2M353.72,277.14h4.2M355.82,275.04v4.2M355.77,277.3h4.2M357.87,275.2v4.2M357.82,277.48h4.2M359.92,275.38v4.2M359.87,277.67h4.2M361.97,275.57v4.2M361.93,277.87h4.2M364.03,275.77v4.2M363.99,278.09h4.2M366.09,275.99v4.2M366.05,278.35h4.2M368.15,276.25v4.2M368.11,278.62h4.2M370.21,276.52v4.2M370.17,278.91h4.2M372.27,276.81v4.2M372.24,279.23h4.2M374.34,277.13v4.2M374.31,279.57h4.2M376.41,277.47v4.2M376.38,279.96h4.2M378.48,277.86v4.2M378.45,280.44h4.2M380.55,278.34v4.2M380.52,281.09h4.2M382.62,278.99v4.2M382.6,281.8h4.2M384.7,279.7v4.2M384.67,282.47h4.2M386.77,280.37v4.2M386.75,283.12h4.2M388.85,281.02v4.2M388.83,283.79h4.2M390.93,281.69v4.2M390.92,284.5h4.2M393.02,282.4v4.2M393,285.28h4.2M395.1,283.18v4.2M395.09,286.14h4.2M397.19,284.04v4.2M397.18,287.07h4.2M399.28,284.97v4.2M399.27,288.07h4.2M401.37,285.97v4.2M401.36,289.14h4.2M403.46,287.04v4.2M403.45,290.25h4.2M405.55,288.15v4.2M405.55,291.46h4.2M407.65,289.36v4.2M407.65,292.91h4.2M409.75,290.81v4.2M409.75,294.76h4.2M411.85,292.66v4.2M411.85,296.93h4.2M413.95,294.83v4.2M413.95,299.47h4.2M416.05,297.37v4.2M416.06,302.67h4.2M418.16,300.57v4.2M418.17,306.06h4.2M420.27,303.96v4.2M420.28,309.09h4.2M422.38,306.99v4.2M422.39,311.23h4.2M424.49,309.13v4.2M424.5,312.16h4.2M426.6,310.06v4.2M426.59,311.57h4.2M428.69,309.47v4.2M428.55,308.92h4.2M430.65,306.82v4.2M430.4,305.22h4.2M432.5,303.12v4.2M432.15,298.6h4.2M434.25,296.5v4.2M433.86,291.1h4.2M435.96,289v4.2M435.58,280h4.2M437.68,277.9v4.2M437.29,260.5h4.2M439.39,258.4v4.2M439,215.7h4.2M441.1,213.6v4.2" stroke="#0000ff" stroke-width="0.9" fill="none"/>
<path d="M271.35,273.4l1.75,3l-1.75,3l-1.75,-3zM273.06,272.06l1.75,3l-1.75,3l-1.75,-3zM274.77,272.53l1.75,3l-1.75,3l-1.75,-3zM276.49,273.44l1.75,3l-1.75,3l-1.75,-3zM278.2,274.04l1.75,3l-1.75,3l-1.75,-3zM279.91,274.38l1.75,3l-1.75,3l-1.75,-3zM281.62,274.18l1.75,3l-1.75,3l-1.75,-3zM283.33,274.17l1.75,3l-1.75,3l-1.75,-3zM285.05,274.27l1.75,3l-1.75,3l-1.75,-3zM286.76,273.74l1.75,3l-1.75,3l-1.75,-3zM288.47,273.47l1.75,3l-1.75,3l-1.75,-3zM290.18,273.23l1.75,3l-1.75,3l-1.75,-3zM291.89,272.16l1.75,3l-1.75,3l-1.75,-3zM293.61,271.91l1.75,3l-1.75,3l-1.75,-3zM295.32,271.05l1.75,3l-1.75,3l-1.75,-3zM297.03,270.38l1.75,3l-1.75,3l-1.75,-3zM298.74,270.37l1.75,3l-1.75,3l-1.75,-3zM300.45,269.9l1.75,3l-1.75,3l-1.75,-3zM302.17,269.64l1.75,3l-1.75,3l-1.75,-3zM303.92,269.66l1.75,3l-1.75,3l-1.75,-3zM305.71,269.93l1.75,3l-1.75,3l-1.75,-3zM307.53,269.65l1.75,3l-1.75,3l-1.75,-3zM309.39,269.21l1.75,3l-1.75,3l-1.75,-3zM311.28,269.67l1.75,3l-1.75,3l-1.75,-3zM313.22,269.04l1.75,3l-1.75,3l-1.75,-3zM315.19,269.2l1.75,3l-1.75,3l-1.75,-3zM317.2,269.16l1.75,3l-1.75,3l-1.75,-3zM319.22,269.63l1.75,3l-1.75,3l-1.75,-3zM321.23,268.83l1.75,3l-1.75,3l-1.75,-3zM323.25,269.34l1.75,3l-1.75,3l-1.75,-3zM325.28,269.22l1.75,3l-1.75,3l-1.75,-3zM327.3,268.93l1.75,3l-1.75,3l-1.75,-3zM329.32,269.31l1.75,3l-1.75,3l-1.75,-3zM331.35,269.45l1.75,3l-1.75,3l-1.75,-3zM333.38,269.41l1.75,3l-1.75,3l-1.75,-3zM335.41,268.86l1.75,3l-1.75,3l-1.75,-3zM337.44,269.44l1.75,3l-1.75,3l-1.75,-3zM339.48,269.08l1.75,3l-1.75,3l-1.75,-3zM341.51,269.48l1.75,3l-1.75,3l-1.75,-3zM343.55,269.25l1.75,3l-1.75,3l-1.75,-3zM345.59,268.86l1.75,3l-1.75,3l-1.75,-3zM347.63,269.4l1.75,3l-1.75,3l-1.75,-3zM349.67,269.25l1.75,3l-1.75,3l-1.75,-3zM351.72,269.16l1.75,3l-1.75,3l-1.75,-3zM353.77,269.31l1.75,3l-1.75,3l-1.75,-3zM355.82,269.15l1.75,3l-1.75,3l-1.75,-3zM357.87,268.83l1.75,3l-1.75,3l-1.75,-3zM359.92,269.53l1.75,3l-1.75,3l-1.75,-3zM361.97,269.03l1.75,3l-1.75,3l-1.75,-3zM364.03,269.02l1.75,3l-1.75,3l-1.75,-3zM366.09,268.84l1.75,3l-1.75,3l-1.75,-3zM368.15,269.37l1.75,3l-1.75,3l-1.75,-3zM370.21,269.53l1.75,3l-1.75,3l-1.75,-3zM372.27,269.17l1.75,3l-1.75,3l-1.75,-3zM374.34,269.45l1.75,3l-1.75,3l-1.75,-3zM376.41,269.06l1.75,3l-1.75,3l-1.75,-3zM378.48,269.11l1.75,3l-1.75,3l-1.75,-3zM380.55,269.03l1.75,3l-1.75,3l-1.75,-3zM382.62,269.04l1.75,3l-1.75,3l-1.75,-3zM384.7,269.25l1.75,3l-1.75,3l-1.75,-3zM386.77,269.06l1.75,3l-1.75,3l-1.75,-3zM388.85,268.85l1.75,3l-1.75,3l-1.75,-3zM390.93,269.35l1.75,3l-1.75,3l-1.75,-3zM393.02,269.05l1.75,3l-1.75,3l-1.75,-3zM395.1,269.11l1.75,3l-1.75,3l-1.75,-3zM397.19,268.95l1.75,3l-1.75,3l-1.75,-3zM399.28,268.84l1.75,3l-1.75,3l-1.75,-3zM401.37,269.32l1.75,3l-1.75,3l-1.75,-3zM403.46,269.14l1.75,3l-1.75,3l-1.75,-3zM405.55,269.55l1.75,3l-1.75,3l-1.75,-3zM407.65,268.82l1.75,3l-1.75,3l-1.75,-3zM409.75,269.47l1.75,3l-1.75,3l-1.75,-3zM411.85,268.83l1.75,3l-1.75,3l-1.75,-3zM413.95,268.96l1.75,3l-1.75,3l-1.75,-3zM416.05,268.84l1.75,3l-1.75,3l-1.75,-3zM418.16,269.25l1.75,3l-1.75,3l-1.75,-3zM420.27,269.14l1.75,3l-1.75,3l-1.75,-3zM422.38,269.13l1.75,3l-1.75,3l-1.75,-3zM424.49,269.67l1.75,3l-1.75,3l-1.75,-3zM426.6,269.38l1.75,3l-1.75,3l-1.75,-3zM428.69,269.68l1.75,3l-1.75,3l-1.75,-3zM430.65,269.68l1.75,3l-1.75,3l-1.75,-3zM432.5,269.27l1.75,3l-1.75,3l-1.75,-3zM434.25,269.55l1.75,3l-1.75,3l-1.75,-3zM435.96,269.21l1.75,3l-1.75,3l-1.75,-3zM437.68,269.39l1.75,3l-1.75,3l-1.75,-3zM439.39,270.11l1.75,3l-1.75,3l-1.75,-3zM441.1,271.06l1.75,3l-1.75,3l-1.75,-3zM272.21,272.4l1.75,3l-1.75,3l-1.75,-3zM273.92,271.87l1.75,3l-1.75,3l-1.75,-3zM275.63,272.89l1.75,3l-1.75,3l-1.75,-3zM277.34,273.77l1.75,3l-1.75,3l-1.75,-3zM279.05,274.16l1.75,3l-1.75,3l-1.75,-3zM280.77,274.07l1.75,3l-1.75,3l-1.75,-3zM282.48,274.68l1.75,3l-1.75,3l-1.75,-3zM284.19,274.55l1.75,3l-1.75,3l-1.75,-3zM285.9,273.96l1.75,3l-1.75,3l-1.75,-3zM287.61,273.53l1.75,3l-1.75,3l-1.75,-3zM289.33,273.39l1.75,3l-1.75,3l-1.75,-3zM291.04,273.07l1.75,3l-1.75,3l-1.75,-3zM292.75,272.04l1.75,3l-1.75,3l-1.75,-3zM294.46,271.16l1.75,3l-1.75,3l-1.75,-3zM296.17,271.04l1.75,3l-1.75,3l-1.75,-3zM297.88,270.2l1.75,3l-1.75,3l-1.75,-3zM299.6,270.2l1.75,3l-1.75,3l-1.75,-3zM301.31,269.78l1.75,3l-1.75,3l-1.75,-3zM303.05,269.33l1.75,3l-1.75,3l-1.75,-3zM304.81,269.61l1.75,3l-1.75,3l-1.75,-3zM306.62,269.5l1.75,3l-1.75,3l-1.75,-3zM308.46,269.74l1.75,3l-1.75,3l-1.75,-3zM310.34,269.52l1.75,3l-1.75,3l-1.75,-3zM312.25,269.15l1.75,3l-1.75,3l-1.75,-3zM314.2,269.4l1.75,3l-1.75,3l-1.75,-3zM316.2,269.07l1.75,3l-1.75,3l-1.75,-3zM318.21,269.37l1.75,3l-1.75,3l-1.75,-3zM320.23,269.32l1.75,3l-1.75,3l-1.75,-3zM322.24,269.31l1.75,3l-1.75,3l-1.75,-3zM324.26,268.94l1.75,3l-1.75,3l-1.75,-3zM326.29,269.37l1.75,3l-1.75,3l-1.75,-3zM328.31,269.23l1.75,3l-1.75,3l-1.75,-3zM330.34,269.39l1.75,3l-1.75,3l-1.75,-3zM332.36,268.84l1.75,3l-1.75,3l-1.75,-3zM334.39,269.39l1.75,3l-1.75,3l-1.75,-3zM336.43,269.56l1.75,3l-1.75,3l-1.75,-3zM338.46,269.27l1.75,3l-1.75,3l-1.75,-3zM340.49,268.91l1.75,3l-1.75,3l-1.75,-3zM342.53,269.54l1.75,3l-1.75,3l-1.75,-3zM344.57,269.24l1.75,3l-1.75,3l-1.75,-3zM346.61,269.02l1.75,3l-1.75,3l-1.75,-3zM348.65,269.3l1.75,3l-1.75,3l-1.75,-3zM350.7,269.49l1.75,3l-1.75,3l-1.75,-3zM352.74,268.89l1.75,3l-1.75,3l-1.75,-3zM354.79,269.25l1.75,3l-1.75,3l-1.75,-3zM356.84,269.31l1.75,3l-1.75,3l-1.75,-3zM358.89,269.54l1.75,3l-1.75,3l-1.75,-3zM360.95,268.83l1.75,3l-1.75,3l-1.75,-3zM363,269.21l1.75,3l-1.75,3l-1.75,-3zM365.06,269.39l1.75,3l-1.75,3l-1.75,-3zM367.12,269.33l1.75,3l-1.75,3l-1.75,-3zM369.18,269.49l1.75,3l-1.75,3l-1.75,-3zM371.24,269.33l1.75,3l-1.75,3l-1.75,-3zM373.31,269.31l1.75,3l-1.75,3l-1.75,-3zM375.37,269.29l1.75,3l-1.75,3l-1.75,-3zM377.44,268.93l1.75,3l-1.75,3l-1.75,-3zM379.51,269.48l1.75,3l-1.75,3l-1.75,-3zM381.59,269.21l1.75,3l-1.75,3l-1.75,-3zM383.66,268.82l1.75,3l-1.75,3l-1.75,-3zM385.74,269.46l1.75,3l-1.75,3l-1.75,-3zM387.81,269.35l1.75,3l-1.75,3l-1.75,-3zM389.89,269.33l1.75,3l-1.75,3l-1.75,-3zM391.98,268.84l1.75,3l-1.75,3l-1.75,-3zM394.06,269.36l1.75,3l-1.75,3l-1.75,-3zM396.15,269.07l1.75,3l-1.75,3l-1.75,-3zM398.23,269.45l1.75,3l-1.75,3l-1.75,-3zM400.32,268.92l1.75,3l-1.75,3l-1.75,-3zM402.41,269.07l1.75,3l-1.75,3l-1.75,-3zM404.51,268.88l1.75,3l-1.75,3l-1.75,-3zM406.6,268.82l1.75,3l-1.75,3l-1.75,-3zM408.7,269.07l1.75,3l-1.75,3l-1.75,-3zM410.8,269.37l1.75,3l-1.75,3l-1.75,-3zM412.9,269.15l1.75,3l-1.75,3l-1.75,-3zM415,269.07l1.75,3l-1.75,3l-1.75,-3zM417.11,269.59l1.75,3l-1.75,3l-1.75,-3zM419.21,269.43l1.75,3l-1.75,3l-1.75,-3zM421.32,269.64l1.75,3l-1.75,3l-1.75,-3zM423.43,269.13l1.75,3l-1.75,3l-1.75,-3zM425.54,269.06l1.75,3l-1.75,3l-1.75,-3zM427.64,269.7l1.75,3l-1.75,3l-1.75,-3zM429.67,269.02l1.75,3l-1.75,3l-1.75,-3zM431.58,269.61l1.75,3l-1.75,3l-1.75,-3zM433.38,269.77l1.75,3l-1.75,3l-1.75,-3zM435.11,269.62l1.75,3l-1.75,3l-1.75,-3zM436.82,269.54l1.75,3l-1.75,3l-1.75,-3zM438.53,269.48l1.75,3l-1.75,3l-1.75,-3zM440.24,270.33l1.75,3l-1.75,3l-1.75,-3z" fill="#ff0000" stroke="#ff0000" stroke-width="0.3"/>
<path d="M271.35,271.5 L441.13,271.5" fill="none" stroke="#000" stroke-width="1.7" stroke-linejoin="round"/>
<line x1="295.2" y1="338.8" x2="295.2" y2="192.7" stroke="#0000ff" stroke-width="1.7" stroke-dasharray="6,2.55"/>
<line x1="420" y1="338.8" x2="420" y2="192.7" stroke="#0000ff" stroke-width="1.7" stroke-dasharray="6,2.55"/>
</g>
<path d="M288.5,338.8v-3.0M322.8,338.8v-3.0M357.1,338.8v-3.0M391.4,338.8v-3.0M425.7,338.8v-3.0M263,332.4h3.0M263,312.1h3.0M263,291.8h3.0M263,271.5h3.0M263,251.2h3.0M263,230.9h3.0M263,210.6h3.0" stroke="#1e1e1e" stroke-width="1.4"/>
<rect x="263" y="192.7" width="186.6" height="146.1" fill="none" stroke="#1e1e1e" stroke-width="1.55"/>
<text x="288.5" y="348.1" font-size="9.4" font-weight="bold" stroke="#000" stroke-width="0.3" text-anchor="middle" textLength="14.44" lengthAdjust="spacingAndGlyphs">0.2</text>
<text x="322.8" y="348.1" font-size="9.4" font-weight="bold" stroke="#000" stroke-width="0.3" text-anchor="middle" textLength="14.44" lengthAdjust="spacingAndGlyphs">0.4</text>
<text x="357.1" y="348.1" font-size="9.4" font-weight="bold" stroke="#000" stroke-width="0.3" text-anchor="middle" textLength="14.44" lengthAdjust="spacingAndGlyphs">0.6</text>
<text x="391.4" y="348.1" font-size="9.4" font-weight="bold" stroke="#000" stroke-width="0.3" text-anchor="middle" textLength="14.44" lengthAdjust="spacingAndGlyphs">0.8</text>
<text x="425.7" y="348.1" font-size="9.4" font-weight="bold" stroke="#000" stroke-width="0.3" text-anchor="middle" textLength="14.44" lengthAdjust="spacingAndGlyphs">1.0</text>
<text x="260.4" y="335.35" font-size="9.4" font-weight="bold" stroke="#000" stroke-width="0.3" text-anchor="end" textLength="21.27" lengthAdjust="spacingAndGlyphs">−1.0</text>
<text x="260.4" y="315.05" font-size="9.4" font-weight="bold" stroke="#000" stroke-width="0.3" text-anchor="end" textLength="21.27" lengthAdjust="spacingAndGlyphs">−0.5</text>
<text x="260.4" y="294.75" font-size="9.4" font-weight="bold" stroke="#000" stroke-width="0.3" text-anchor="end" textLength="14.44" lengthAdjust="spacingAndGlyphs">0.0</text>
<text x="260.4" y="274.45" font-size="9.4" font-weight="bold" stroke="#000" stroke-width="0.3" text-anchor="end" textLength="14.44" lengthAdjust="spacingAndGlyphs">0.5</text>
<text x="260.4" y="254.15" font-size="9.4" font-weight="bold" stroke="#000" stroke-width="0.3" text-anchor="end" textLength="14.44" lengthAdjust="spacingAndGlyphs">1.0</text>
<text x="260.4" y="233.85" font-size="9.4" font-weight="bold" stroke="#000" stroke-width="0.3" text-anchor="end" textLength="14.44" lengthAdjust="spacingAndGlyphs">1.5</text>
<text x="260.4" y="213.55" font-size="9.4" font-weight="bold" stroke="#000" stroke-width="0.3" text-anchor="end" textLength="14.44" lengthAdjust="spacingAndGlyphs">2.0</text>
<text x="356.3" y="358.7" font-size="9.0" font-weight="bold" stroke="#000" stroke-width="0.3" text-anchor="middle">x</text>
<text x="234.3" y="266.3" font-size="9.6" font-weight="bold" stroke="#000" stroke-width="0.3" text-anchor="middle" transform="rotate(-90 234.3 266.3)">h</text>
<text x="356.3" y="206.8" font-size="9.3" font-weight="bold" stroke="#000" stroke-width="0.3" text-anchor="middle" textLength="57.76" lengthAdjust="spacingAndGlyphs">DNA Bubble</text>
<text x="248.2" y="192.5" font-size="12.0" font-weight="bold" stroke="#000" stroke-width="0.3">e</text>
<rect x="351.3" y="219.7" width="60.5" height="47.4" rx="2" ry="2" fill="#ffffff" fill-opacity="0.8" stroke="#d4d4d4" stroke-width="0.9"/>
<line x1="354" y1="226.9" x2="372.5" y2="226.9" stroke="#000" stroke-width="1.8"/>
<path d="M361.3,243.3h4M363.3,241.3v4" stroke="#0000ff" stroke-width="1.2" fill="none"/>
<path d="M363.3,256l1.8,3.1l-1.8,3.1l-1.8,-3.1z" fill="#ff0000" stroke="#ff0000" stroke-width="0.3"/>
<text x="379.5" y="229.7" font-size="9.3" textLength="27.44" lengthAdjust="spacingAndGlyphs" fill="#1a1a1a">True <tspan font-weight="bold" stroke="#1a1a1a" stroke-width="0.25">h</tspan></text>
<text x="379.5" y="244.7" font-size="9.3" font-weight="bold" fill="#1a1a1a" stroke="#1a1a1a" stroke-width="0.25"><tspan textLength="6.19" lengthAdjust="spacingAndGlyphs">h</tspan><tspan font-size="7" dy="2.6">1</tspan></text>
<text x="379.5" y="260.8" font-size="9.3" textLength="29.01" lengthAdjust="spacingAndGlyphs" fill="#1a1a1a">Final <tspan font-weight="bold" stroke="#1a1a1a" stroke-width="0.25">h</tspan></text>
<path d="M381.3,237L382.8,235.5L384.3,237M404.11,253.1L405.61,251.6L407.11,253.1" fill="none" stroke="#1a1a1a" stroke-width="0.8"/>
<clipPath id="clipf"><rect x="496.2" y="192.7" width="186" height="146.1"/></clipPath>
<g clip-path="url(#clipf)">
<path d="M502.5,300.8h4.2M504.6,298.7v4.2M504.25,330.39h4.2M506.35,328.29v4.2M506,332.81h4.2M508.1,330.71v4.2M507.75,330.38h4.2M509.85,328.28v4.2M509.5,328.26h4.2M511.6,326.16v4.2M511.25,327.1h4.2M513.35,325v4.2M513,328.46h4.2M515.1,326.36v4.2M514.75,330.14h4.2M516.85,328.04v4.2M516.5,331.61h4.2M518.6,329.51v4.2M518.25,332.7h4.2M520.35,330.6v4.2M520,333.63h4.2M522.1,331.53v4.2M521.75,334h4.2M523.85,331.9v4.2M523.5,334h4.2M525.6,331.9v4.2M525.26,334h4.2M527.36,331.9v4.2M527.01,333.75h4.2M529.11,331.65v4.2M528.76,332.84h4.2M530.86,330.74v4.2M530.51,331.89h4.2M532.61,329.79v4.2M532.26,330.9h4.2M534.36,328.8v4.2M534.01,329.8h4.2M536.11,327.7v4.2M535.76,328.62h4.2M537.86,326.52v4.2M537.51,327.27h4.2M539.61,325.17v4.2M539.26,325.79h4.2M541.36,323.69v4.2M541.01,324.3h4.2M543.11,322.2v4.2M542.76,322.93h4.2M544.86,320.83v4.2M544.51,321.67h4.2M546.61,319.57v4.2M546.27,320.45h4.2M548.37,318.35v4.2M548.08,319.23h4.2M550.18,317.13v4.2M549.94,317.96h4.2M552.04,315.86v4.2M551.84,316.68h4.2M553.94,314.58v4.2M553.79,315.37h4.2M555.89,313.27v4.2M555.79,314.39h4.2M557.89,312.29v4.2M557.83,313.28h4.2M559.93,311.18v4.2M559.93,312.09h4.2M562.03,309.99v4.2M562.03,310.86h4.2M564.13,308.76v4.2M564.13,309.59h4.2M566.23,307.49v4.2M566.23,308.27h4.2M568.33,306.17v4.2M568.33,306.89h4.2M570.43,304.79v4.2M570.43,305.45h4.2M572.53,303.35v4.2M572.54,303.97h4.2M574.64,301.87v4.2M574.64,302.44h4.2M576.74,300.34v4.2M576.74,300.86h4.2M578.84,298.76v4.2M578.84,299.24h4.2M580.94,297.14v4.2M580.94,297.57h4.2M583.04,295.47v4.2M583.04,295.87h4.2M585.14,293.77v4.2M585.14,294.13h4.2M587.24,292.03v4.2M587.24,292.36h4.2M589.34,290.26v4.2M589.34,290.56h4.2M591.44,288.46v4.2M591.44,288.73h4.2M593.54,286.63v4.2M593.54,286.86h4.2M595.64,284.76v4.2M595.64,284.97h4.2M597.74,282.87v4.2M597.74,283.03h4.2M599.84,280.93v4.2M599.84,281.07h4.2M601.94,278.97v4.2M601.94,279.07h4.2M604.04,276.97v4.2M604.04,277.08h4.2M606.14,274.98v4.2M606.14,275.25h4.2M608.24,273.15v4.2M608.24,273.53h4.2M610.34,271.43v4.2M610.34,271.81h4.2M612.44,269.71v4.2M612.44,270.03h4.2M614.54,267.93v4.2M614.54,268.21h4.2M616.64,266.11v4.2M616.65,266.39h4.2M618.75,264.29v4.2M618.75,264.55h4.2M620.85,262.45v4.2M620.85,262.69h4.2M622.95,260.59v4.2M622.95,260.8h4.2M625.05,258.7v4.2M625.05,258.88h4.2M627.15,256.78v4.2M627.15,256.92h4.2M629.25,254.82v4.2M629.25,254.88h4.2M631.35,252.78v4.2M631.35,252.78h4.2M633.45,250.68v4.2M633.45,250.79h4.2M635.55,248.69v4.2M635.54,249.18h4.2M637.64,247.08v4.2M637.58,248.12h4.2M639.68,246.02v4.2M639.57,247.33h4.2M641.67,245.23v4.2M641.52,246.55h4.2M643.62,244.45v4.2M643.42,245.7h4.2M645.52,243.6v4.2M645.28,244.92h4.2M647.38,242.82v4.2M647.09,243.76h4.2M649.19,241.66v4.2M648.89,244.3h4.2M650.99,242.2v4.2M650.7,244.88h4.2M652.8,242.78v4.2M652.5,246.33h4.2M654.6,244.23v4.2M654.3,248.4h4.2M656.4,246.3v4.2M656.1,251.25h4.2M658.2,249.15v4.2M657.9,256.4h4.2M660,254.3v4.2M659.7,262.54h4.2M661.8,260.44v4.2M661.5,269.5h4.2M663.6,267.4v4.2M663.3,277.97h4.2M665.4,275.87v4.2M665.1,287.47h4.2M667.2,285.37v4.2M666.9,300.59h4.2M669,298.49v4.2M668.7,312.79h4.2M670.8,310.69v4.2M670.5,326.8h4.2M672.6,324.7v4.2M672.3,341.5h4.2M674.4,339.4v4.2" stroke="#0000ff" stroke-width="0.9" fill="none"/>
<path d="M504.6,304.7l1.75,3l-1.75,3l-1.75,-3zM506.35,312.5l1.75,3l-1.75,3l-1.75,-3zM508.1,314.42l1.75,3l-1.75,3l-1.75,-3zM509.85,315.2l1.75,3l-1.75,3l-1.75,-3zM511.6,316.42l1.75,3l-1.75,3l-1.75,-3zM513.35,316.86l1.75,3l-1.75,3l-1.75,-3zM515.1,316.63l1.75,3l-1.75,3l-1.75,-3zM516.85,317.12l1.75,3l-1.75,3l-1.75,-3zM518.6,317.41l1.75,3l-1.75,3l-1.75,-3zM520.35,317.15l1.75,3l-1.75,3l-1.75,-3zM522.1,316.93l1.75,3l-1.75,3l-1.75,-3zM523.85,317.27l1.75,3l-1.75,3l-1.75,-3zM525.6,316.82l1.75,3l-1.75,3l-1.75,-3zM527.36,316.52l1.75,3l-1.75,3l-1.75,-3zM529.11,316.18l1.75,3l-1.75,3l-1.75,-3zM530.86,315.37l1.75,3l-1.75,3l-1.75,-3zM532.61,315.24l1.75,3l-1.75,3l-1.75,-3zM534.36,314.42l1.75,3l-1.75,3l-1.75,-3zM536.11,314.2l1.75,3l-1.75,3l-1.75,-3zM537.86,313.32l1.75,3l-1.75,3l-1.75,-3zM539.61,313.14l1.75,3l-1.75,3l-1.75,-3zM541.36,312.11l1.75,3l-1.75,3l-1.75,-3zM543.11,311.91l1.75,3l-1.75,3l-1.75,-3zM544.86,310.6l1.75,3l-1.75,3l-1.75,-3zM546.61,310.32l1.75,3l-1.75,3l-1.75,-3zM548.37,309.71l1.75,3l-1.75,3l-1.75,-3zM550.18,309.02l1.75,3l-1.75,3l-1.75,-3zM552.04,308.11l1.75,3l-1.75,3l-1.75,-3zM553.94,307.57l1.75,3l-1.75,3l-1.75,-3zM555.89,306.86l1.75,3l-1.75,3l-1.75,-3zM557.89,306.31l1.75,3l-1.75,3l-1.75,-3zM559.93,305.17l1.75,3l-1.75,3l-1.75,-3zM562.03,303.84l1.75,3l-1.75,3l-1.75,-3zM564.13,302.66l1.75,3l-1.75,3l-1.75,-3zM566.23,301.79l1.75,3l-1.75,3l-1.75,-3zM568.33,300.26l1.75,3l-1.75,3l-1.75,-3zM570.43,298.6l1.75,3l-1.75,3l-1.75,-3zM572.53,297.29l1.75,3l-1.75,3l-1.75,-3zM574.64,296.47l1.75,3l-1.75,3l-1.75,-3zM576.74,294.89l1.75,3l-1.75,3l-1.75,-3zM578.84,293.49l1.75,3l-1.75,3l-1.75,-3zM580.94,291.95l1.75,3l-1.75,3l-1.75,-3zM583.04,290.16l1.75,3l-1.75,3l-1.75,-3zM585.14,289.3l1.75,3l-1.75,3l-1.75,-3zM587.24,287.43l1.75,3l-1.75,3l-1.75,-3zM589.34,285.9l1.75,3l-1.75,3l-1.75,-3zM591.44,284.19l1.75,3l-1.75,3l-1.75,-3zM593.54,282.2l1.75,3l-1.75,3l-1.75,-3zM595.64,281.07l1.75,3l-1.75,3l-1.75,-3zM597.74,279.22l1.75,3l-1.75,3l-1.75,-3zM599.84,276.57l1.75,3l-1.75,3l-1.75,-3zM601.94,274.66l1.75,3l-1.75,3l-1.75,-3zM604.04,272.93l1.75,3l-1.75,3l-1.75,-3zM606.14,271.36l1.75,3l-1.75,3l-1.75,-3zM608.24,268.87l1.75,3l-1.75,3l-1.75,-3zM610.34,267.08l1.75,3l-1.75,3l-1.75,-3zM612.44,264.43l1.75,3l-1.75,3l-1.75,-3zM614.54,262.31l1.75,3l-1.75,3l-1.75,-3zM616.64,260.29l1.75,3l-1.75,3l-1.75,-3zM618.75,257.81l1.75,3l-1.75,3l-1.75,-3zM620.85,255.14l1.75,3l-1.75,3l-1.75,-3zM622.95,252.82l1.75,3l-1.75,3l-1.75,-3zM625.05,250.48l1.75,3l-1.75,3l-1.75,-3zM627.15,247.78l1.75,3l-1.75,3l-1.75,-3zM629.25,245.08l1.75,3l-1.75,3l-1.75,-3zM631.35,242.54l1.75,3l-1.75,3l-1.75,-3zM633.45,240.43l1.75,3l-1.75,3l-1.75,-3zM635.55,237.49l1.75,3l-1.75,3l-1.75,-3zM637.64,234.97l1.75,3l-1.75,3l-1.75,-3zM639.68,232.58l1.75,3l-1.75,3l-1.75,-3zM641.67,230.69l1.75,3l-1.75,3l-1.75,-3zM643.62,228.23l1.75,3l-1.75,3l-1.75,-3zM645.52,225.35l1.75,3l-1.75,3l-1.75,-3zM647.38,222.68l1.75,3l-1.75,3l-1.75,-3zM649.19,220.42l1.75,3l-1.75,3l-1.75,-3zM650.99,218.32l1.75,3l-1.75,3l-1.75,-3zM652.8,215.58l1.75,3l-1.75,3l-1.75,-3zM654.6,213.3l1.75,3l-1.75,3l-1.75,-3zM656.4,210.71l1.75,3l-1.75,3l-1.75,-3zM658.2,208.03l1.75,3l-1.75,3l-1.75,-3zM660,205.41l1.75,3l-1.75,3l-1.75,-3zM661.8,202.4l1.75,3l-1.75,3l-1.75,-3zM663.6,199.37l1.75,3l-1.75,3l-1.75,-3zM665.4,197.06l1.75,3l-1.75,3l-1.75,-3zM507.23,313.7l1.75,3l-1.75,3l-1.75,-3zM508.98,315.32l1.75,3l-1.75,3l-1.75,-3zM510.73,315.54l1.75,3l-1.75,3l-1.75,-3zM512.48,316.33l1.75,3l-1.75,3l-1.75,-3zM514.23,317.03l1.75,3l-1.75,3l-1.75,-3zM515.98,317.33l1.75,3l-1.75,3l-1.75,-3zM517.73,317.33l1.75,3l-1.75,3l-1.75,-3zM519.48,317.16l1.75,3l-1.75,3l-1.75,-3zM521.23,317.17l1.75,3l-1.75,3l-1.75,-3zM522.98,316.94l1.75,3l-1.75,3l-1.75,-3zM524.73,316.7l1.75,3l-1.75,3l-1.75,-3zM526.48,316.95l1.75,3l-1.75,3l-1.75,-3zM528.23,316.28l1.75,3l-1.75,3l-1.75,-3zM529.98,315.64l1.75,3l-1.75,3l-1.75,-3zM531.73,315.18l1.75,3l-1.75,3l-1.75,-3zM533.48,314.59l1.75,3l-1.75,3l-1.75,-3zM535.23,314.09l1.75,3l-1.75,3l-1.75,-3zM536.98,313.93l1.75,3l-1.75,3l-1.75,-3zM538.73,313.04l1.75,3l-1.75,3l-1.75,-3zM540.48,312.42l1.75,3l-1.75,3l-1.75,-3zM542.23,312.16l1.75,3l-1.75,3l-1.75,-3zM543.98,310.87l1.75,3l-1.75,3l-1.75,-3zM545.73,310.87l1.75,3l-1.75,3l-1.75,-3zM547.49,309.72l1.75,3l-1.75,3l-1.75,-3zM549.28,309.33l1.75,3l-1.75,3l-1.75,-3zM551.11,308.65l1.75,3l-1.75,3l-1.75,-3zM552.99,307.95l1.75,3l-1.75,3l-1.75,-3zM554.91,306.91l1.75,3l-1.75,3l-1.75,-3zM556.89,306.66l1.75,3l-1.75,3l-1.75,-3zM558.91,305.45l1.75,3l-1.75,3l-1.75,-3zM560.98,304.25l1.75,3l-1.75,3l-1.75,-3zM563.08,303.26l1.75,3l-1.75,3l-1.75,-3zM565.18,302.19l1.75,3l-1.75,3l-1.75,-3zM567.28,300.75l1.75,3l-1.75,3l-1.75,-3zM569.38,299.5l1.75,3l-1.75,3l-1.75,-3zM571.48,298.04l1.75,3l-1.75,3l-1.75,-3zM573.58,296.67l1.75,3l-1.75,3l-1.75,-3zM575.69,295.66l1.75,3l-1.75,3l-1.75,-3zM577.79,294.54l1.75,3l-1.75,3l-1.75,-3zM579.89,292.4l1.75,3l-1.75,3l-1.75,-3zM581.99,291.4l1.75,3l-1.75,3l-1.75,-3zM584.09,289.89l1.75,3l-1.75,3l-1.75,-3zM586.19,288.5l1.75,3l-1.75,3l-1.75,-3zM588.29,286.59l1.75,3l-1.75,3l-1.75,-3zM590.39,284.9l1.75,3l-1.75,3l-1.75,-3zM592.49,283.2l1.75,3l-1.75,3l-1.75,-3zM594.59,281.87l1.75,3l-1.75,3l-1.75,-3zM596.69,280.06l1.75,3l-1.75,3l-1.75,-3zM598.79,278.16l1.75,3l-1.75,3l-1.75,-3zM600.89,275.82l1.75,3l-1.75,3l-1.75,-3zM602.99,273.93l1.75,3l-1.75,3l-1.75,-3zM605.09,271.84l1.75,3l-1.75,3l-1.75,-3zM607.19,270.09l1.75,3l-1.75,3l-1.75,-3zM609.29,267.61l1.75,3l-1.75,3l-1.75,-3zM611.39,265.85l1.75,3l-1.75,3l-1.75,-3zM613.49,263.68l1.75,3l-1.75,3l-1.75,-3zM615.59,261.21l1.75,3l-1.75,3l-1.75,-3zM617.69,258.6l1.75,3l-1.75,3l-1.75,-3zM619.8,256.3l1.75,3l-1.75,3l-1.75,-3zM621.9,254.13l1.75,3l-1.75,3l-1.75,-3zM624,251.81l1.75,3l-1.75,3l-1.75,-3zM626.1,248.88l1.75,3l-1.75,3l-1.75,-3zM628.2,246.71l1.75,3l-1.75,3l-1.75,-3zM630.3,244.36l1.75,3l-1.75,3l-1.75,-3zM632.4,241.68l1.75,3l-1.75,3l-1.75,-3zM634.5,239.29l1.75,3l-1.75,3l-1.75,-3zM636.59,236.84l1.75,3l-1.75,3l-1.75,-3zM638.66,233.81l1.75,3l-1.75,3l-1.75,-3zM640.67,231.3l1.75,3l-1.75,3l-1.75,-3zM642.64,229.39l1.75,3l-1.75,3l-1.75,-3zM644.57,226.52l1.75,3l-1.75,3l-1.75,-3zM646.45,223.82l1.75,3l-1.75,3l-1.75,-3zM648.29,221.79l1.75,3l-1.75,3l-1.75,-3zM650.09,219.22l1.75,3l-1.75,3l-1.75,-3zM651.89,216.52l1.75,3l-1.75,3l-1.75,-3zM653.7,214.59l1.75,3l-1.75,3l-1.75,-3zM655.5,211.68l1.75,3l-1.75,3l-1.75,-3zM657.3,209.49l1.75,3l-1.75,3l-1.75,-3zM659.1,206.27l1.75,3l-1.75,3l-1.75,-3zM660.9,203.4l1.75,3l-1.75,3l-1.75,-3zM662.7,201.34l1.75,3l-1.75,3l-1.75,-3zM664.5,198.08l1.75,3l-1.75,3l-1.75,-3zM666.1,197.6l1.75,3l-1.75,3l-1.75,-3zM667.8,196.9l1.75,3l-1.75,3l-1.75,-3zM669.5,199.3l1.75,3l-1.75,3l-1.75,-3zM670.8,201.4l1.75,3l-1.75,3l-1.75,-3zM672.7,195.3l1.75,3l-1.75,3l-1.75,-3z" fill="#ff0000" stroke="#ff0000" stroke-width="0.3"/>
<path d="M504.6,324.3 L506.31,324.29 L508.03,324.24 L509.75,324.17 L511.46,324.06 L513.18,323.93 L514.89,323.77 L516.61,323.58 L518.32,323.36 L520.03,323.11 L521.75,322.83 L523.47,322.52 L525.18,322.18 L526.89,321.81 L528.61,321.41 L530.33,320.99 L532.04,320.53 L533.75,320.05 L535.47,319.53 L537.19,318.99 L538.9,318.41 L540.62,317.81 L542.33,317.18 L544.05,316.51 L545.76,315.82 L547.48,315.1 L549.19,314.35 L550.9,313.57 L552.62,312.76 L554.34,311.92 L556.05,311.05 L557.76,310.15 L559.48,309.23 L561.2,308.27 L562.91,307.28 L564.62,306.27 L566.34,305.22 L568.06,304.15 L569.77,303.04 L571.49,301.91 L573.2,300.75 L574.92,299.56 L576.63,298.33 L578.35,297.08 L580.06,295.8 L581.77,294.49 L583.49,293.15 L585.21,291.78 L586.92,290.39 L588.63,288.96 L590.35,287.5 L592.07,286.01 L593.78,284.5 L595.5,282.95 L597.21,281.38 L598.93,279.77 L600.64,278.14 L602.36,276.47 L604.07,274.78 L605.78,273.06 L607.5,271.31 L609.22,269.53 L610.93,267.72 L612.64,265.88 L614.36,264.01 L616.08,262.11 L617.79,260.18 L619.5,258.22 L621.22,256.23 L622.94,254.22 L624.65,252.17 L626.37,250.1 L628.08,247.99 L629.8,245.86 L631.51,243.69 L633.23,241.5 L634.94,239.28 L636.65,237.03 L638.37,234.74 L640.09,232.43 L641.8,230.09 L643.52,227.72 L645.23,225.32 L646.95,222.89 L648.66,220.44 L650.38,217.95 L652.09,215.43 L653.81,212.88 L655.52,210.31 L657.24,207.7 L658.95,205.07 L660.66,202.4 L662.38,199.71 L664.1,196.99 L665.81,194.23 L667.53,191.45 L669.24,188.64 L670.96,185.8 L672.67,182.93 L674.38,180.03" fill="none" stroke="#000" stroke-width="1.7" stroke-linejoin="round"/>
<line x1="525" y1="338.8" x2="525" y2="192.7" stroke="#0000ff" stroke-width="1.7" stroke-dasharray="6,2.55"/>
<line x1="648.3" y1="338.8" x2="648.3" y2="192.7" stroke="#0000ff" stroke-width="1.7" stroke-dasharray="6,2.55"/>
</g>
<path d="M504.6,338.8v-3.0M538.9,338.8v-3.0M573.2,338.8v-3.0M607.5,338.8v-3.0M641.8,338.8v-3.0M676.1,338.8v-3.0M496.2,324.3h3.0M496.2,287.5h3.0M496.2,250.7h3.0M496.2,213.9h3.0" stroke="#1e1e1e" stroke-width="1.4"/>
<rect x="496.2" y="192.7" width="186" height="146.1" fill="none" stroke="#1e1e1e" stroke-width="1.55"/>
<text x="504.6" y="348.1" font-size="9.4" font-weight="bold" stroke="#000" stroke-width="0.3" text-anchor="middle" textLength="14.44" lengthAdjust="spacingAndGlyphs">0.0</text>
<text x="538.9" y="348.1" font-size="9.4" font-weight="bold" stroke="#000" stroke-width="0.3" text-anchor="middle" textLength="14.44" lengthAdjust="spacingAndGlyphs">0.2</text>
<text x="573.2" y="348.1" font-size="9.4" font-weight="bold" stroke="#000" stroke-width="0.3" text-anchor="middle" textLength="14.44" lengthAdjust="spacingAndGlyphs">0.4</text>
<text x="607.5" y="348.1" font-size="9.4" font-weight="bold" stroke="#000" stroke-width="0.3" text-anchor="middle" textLength="14.44" lengthAdjust="spacingAndGlyphs">0.6</text>
<text x="641.8" y="348.1" font-size="9.4" font-weight="bold" stroke="#000" stroke-width="0.3" text-anchor="middle" textLength="14.44" lengthAdjust="spacingAndGlyphs">0.8</text>
<text x="676.1" y="348.1" font-size="9.4" font-weight="bold" stroke="#000" stroke-width="0.3" text-anchor="middle" textLength="14.44" lengthAdjust="spacingAndGlyphs">1.0</text>
<text x="493.6" y="327.25" font-size="9.4" font-weight="bold" stroke="#000" stroke-width="0.3" text-anchor="end" textLength="14.44" lengthAdjust="spacingAndGlyphs">0.0</text>
<text x="493.6" y="290.45" font-size="9.4" font-weight="bold" stroke="#000" stroke-width="0.3" text-anchor="end" textLength="14.44" lengthAdjust="spacingAndGlyphs">0.5</text>
<text x="493.6" y="253.65" font-size="9.4" font-weight="bold" stroke="#000" stroke-width="0.3" text-anchor="end" textLength="14.44" lengthAdjust="spacingAndGlyphs">1.0</text>
<text x="493.6" y="216.85" font-size="9.4" font-weight="bold" stroke="#000" stroke-width="0.3" text-anchor="end" textLength="14.44" lengthAdjust="spacingAndGlyphs">1.5</text>
<text x="589.2" y="358.7" font-size="9.0" font-weight="bold" stroke="#000" stroke-width="0.3" text-anchor="middle">x</text>
<text x="473.7" y="265.5" font-size="9.6" font-weight="bold" stroke="#000" stroke-width="0.3" text-anchor="middle" textLength="37.7" lengthAdjust="spacingAndGlyphs" transform="rotate(-90 473.7 265.5)">h (10<tspan font-size="6.6" dy="-3.6">−1</tspan><tspan dy="3.6">)</tspan></text>
<text x="589.2" y="206.8" font-size="9.3" font-weight="bold" stroke="#000" stroke-width="0.3" text-anchor="middle" textLength="73.62" lengthAdjust="spacingAndGlyphs">Agent's Wealth</text>
<text x="484" y="196.2" font-size="12.0" font-weight="bold" stroke="#000" stroke-width="0.3">f</text>
<rect x="532.5" y="219.3" width="60.5" height="47.4" rx="2" ry="2" fill="#ffffff" fill-opacity="0.8" stroke="#d4d4d4" stroke-width="0.9"/>
<line x1="535.2" y1="226.5" x2="553.7" y2="226.5" stroke="#000" stroke-width="1.8"/>
<path d="M542.5,242.9h4M544.5,240.9v4" stroke="#0000ff" stroke-width="1.2" fill="none"/>
<path d="M544.5,255.6l1.8,3.1l-1.8,3.1l-1.8,-3.1z" fill="#ff0000" stroke="#ff0000" stroke-width="0.3"/>
<text x="560.7" y="229.3" font-size="9.3" textLength="27.44" lengthAdjust="spacingAndGlyphs" fill="#1a1a1a">True <tspan font-weight="bold" stroke="#1a1a1a" stroke-width="0.25">h</tspan></text>
<text x="560.7" y="244.3" font-size="9.3" font-weight="bold" fill="#1a1a1a" stroke="#1a1a1a" stroke-width="0.25"><tspan textLength="6.19" lengthAdjust="spacingAndGlyphs">h</tspan><tspan font-size="7" dy="2.6">1</tspan></text>
<text x="560.7" y="260.4" font-size="9.3" textLength="29.01" lengthAdjust="spacingAndGlyphs" fill="#1a1a1a">Final <tspan font-weight="bold" stroke="#1a1a1a" stroke-width="0.25">h</tspan></text>
<path d="M562.5,236.6L564,235.1L565.5,236.6M585.31,252.7L586.81,251.2L588.31,252.7" fill="none" stroke="#1a1a1a" stroke-width="0.8"/>
</svg>
</body></html>
